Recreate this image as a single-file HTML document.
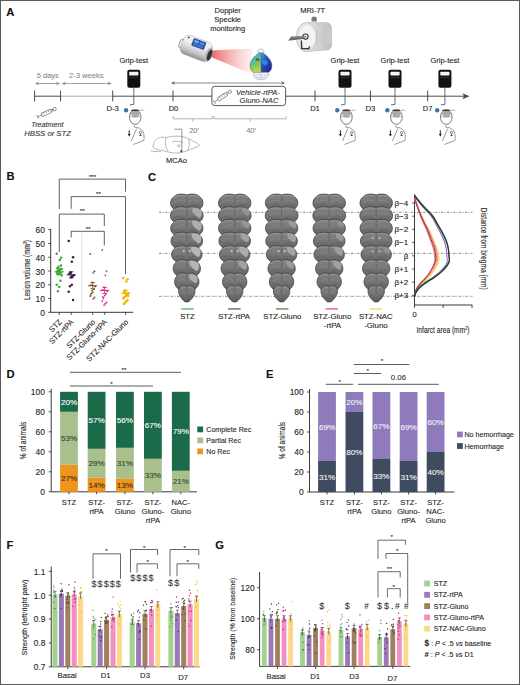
<!DOCTYPE html>
<html><head><meta charset="utf-8"><style>
html,body{margin:0;padding:0;background:#fff;}
svg{display:block;font-family:"Liberation Sans", sans-serif;}
</style></head><body>
<svg width="520" height="685" viewBox="0 0 520 685" font-family='"Liberation Sans", sans-serif'>
<rect width="520" height="685" fill="#fff"/>
<defs>
<linearGradient id="cone" x1="0" y1="0" x2="1" y2="0"><stop offset="0" stop-color="#e84a4a" stop-opacity="0.9"/><stop offset="1" stop-color="#f7b0b0" stop-opacity="0.25"/></linearGradient>
<linearGradient id="silver" x1="0" y1="0" x2="0" y2="1"><stop offset="0" stop-color="#f2f2f2"/><stop offset="0.6" stop-color="#cfcfcf"/><stop offset="1" stop-color="#9a9a9a"/></linearGradient>
<linearGradient id="mri" x1="0" y1="0" x2="1" y2="0"><stop offset="0" stop-color="#e8e8e8"/><stop offset="1" stop-color="#bdbdbd"/></linearGradient>
<radialGradient id="brainc" cx="0.35" cy="0.35" r="0.7"><stop offset="0" stop-color="#f0d020"/><stop offset="0.25" stop-color="#40c0a0"/><stop offset="0.55" stop-color="#2a78c8"/><stop offset="1" stop-color="#1c3c9c"/></radialGradient>
<linearGradient id="slice" x1="0" y1="0" x2="0" y2="1"><stop offset="0" stop-color="#828282"/><stop offset="0.5" stop-color="#747474"/><stop offset="1" stop-color="#5a5a5a"/></linearGradient>
</defs>
<text x="6.30" y="15.90" font-size="11.2" text-anchor="start" fill="#111" stroke="#111" stroke-width="0.1" font-weight="bold" font-style="normal" >A</text>
<line x1="34.60" y1="96.20" x2="60.60" y2="96.20" stroke="#4a4a4a" stroke-width="1.0" />
<line x1="60.60" y1="96.20" x2="112.70" y2="96.20" stroke="#555" stroke-width="1.0" stroke-dasharray="1,1"/>
<line x1="112.70" y1="96.20" x2="465.00" y2="96.20" stroke="#4a4a4a" stroke-width="1.0" />
<path d="M469.5,96.2 L462.5,93.2 L464,96.2 L462.5,99.2 Z" fill="#4a4a4a" stroke="none" stroke-width="0.8" />
<line x1="34.60" y1="90.60" x2="34.60" y2="101.40" stroke="#4a4a4a" stroke-width="1.0" />
<line x1="60.60" y1="90.60" x2="60.60" y2="101.40" stroke="#4a4a4a" stroke-width="1.0" />
<line x1="112.70" y1="90.60" x2="112.70" y2="101.40" stroke="#4a4a4a" stroke-width="1.0" />
<line x1="173.00" y1="90.60" x2="173.00" y2="101.40" stroke="#4a4a4a" stroke-width="1.0" />
<line x1="315.00" y1="90.60" x2="315.00" y2="101.40" stroke="#4a4a4a" stroke-width="1.0" />
<line x1="370.40" y1="90.60" x2="370.40" y2="101.40" stroke="#4a4a4a" stroke-width="1.0" />
<line x1="427.70" y1="90.60" x2="427.70" y2="101.40" stroke="#4a4a4a" stroke-width="1.0" />
<text x="112.70" y="111.00" font-size="7.6" text-anchor="middle" fill="#222" stroke="#222" stroke-width="0.1" font-weight="normal" font-style="normal" >D-3</text>
<text x="173.50" y="111.00" font-size="7.6" text-anchor="middle" fill="#222" stroke="#222" stroke-width="0.1" font-weight="normal" font-style="normal" >D0</text>
<text x="315.00" y="111.00" font-size="7.6" text-anchor="middle" fill="#222" stroke="#222" stroke-width="0.1" font-weight="normal" font-style="normal" >D1</text>
<text x="370.40" y="111.00" font-size="7.6" text-anchor="middle" fill="#222" stroke="#222" stroke-width="0.1" font-weight="normal" font-style="normal" >D3</text>
<text x="427.70" y="111.00" font-size="7.6" text-anchor="middle" fill="#222" stroke="#222" stroke-width="0.1" font-weight="normal" font-style="normal" >D7</text>
<line x1="36.00" y1="83.50" x2="59.00" y2="83.50" stroke="#8c8c8c" stroke-width="0.8" />
<path d="M35,83.5 L39.1,81.55 L37.6,83.5 L39.1,85.45 Z" fill="#8c8c8c" stroke="none" stroke-width="0.8" />
<path d="M60,83.5 L55.9,81.55 L57.4,83.5 L55.9,85.45 Z" fill="#8c8c8c" stroke="none" stroke-width="0.8" />
<line x1="62.80" y1="83.50" x2="110.60" y2="83.50" stroke="#8c8c8c" stroke-width="0.8" />
<path d="M61.8,83.5 L65.89999999999999,81.55 L64.39999999999999,83.5 L65.89999999999999,85.45 Z" fill="#8c8c8c" stroke="none" stroke-width="0.8" />
<path d="M111.6,83.5 L107.5,81.55 L109.0,83.5 L107.5,85.45 Z" fill="#8c8c8c" stroke="none" stroke-width="0.8" />
<text x="47.80" y="77.70" font-size="7.5" text-anchor="middle" fill="#8a8a8a" stroke="#8a8a8a" stroke-width="0.1" font-weight="normal" font-style="normal" >5 days</text>
<text x="86.30" y="77.70" font-size="7.6" text-anchor="middle" fill="#8a8a8a" stroke="#8a8a8a" stroke-width="0.1" font-weight="normal" font-style="normal" >2-3 weeks</text>
<line x1="172.00" y1="83.00" x2="284.00" y2="83.00" stroke="#6a6a6a" stroke-width="0.8" />
<path d="M171,83 L175.1,81.05 L173.6,83 L175.1,84.95 Z" fill="#6a6a6a" stroke="none" stroke-width="0.8" />
<path d="M285,83 L280.9,81.05 L282.4,83 L280.9,84.95 Z" fill="#6a6a6a" stroke="none" stroke-width="0.8" />
<text x="47.40" y="126.60" font-size="7.2" text-anchor="middle" fill="#333" stroke="#333" stroke-width="0.1" font-weight="normal" font-style="italic" >Treatment</text>
<text x="47.60" y="135.80" font-size="7.7" text-anchor="middle" fill="#333" stroke="#333" stroke-width="0.1" font-weight="normal" font-style="italic" >HBSS or STZ</text>
<g transform="translate(47.3,112.4) rotate(-25) scale(1.0)" fill="none" stroke="#8a8a8a" stroke-width="0.9"><line x1="-10.5" y1="-2" x2="-10.5" y2="2"/><line x1="-10.5" y1="0" x2="-6" y2="0"/><rect x="-6" y="-1.8" width="10" height="3.6" rx="0.5"/><line x1="-3.5" y1="-1.8" x2="-3.5" y2="0"/><line x1="-1" y1="-1.8" x2="-1" y2="0"/><line x1="1.5" y1="-1.8" x2="1.5" y2="0"/><path d="M4,-1.2 L6,-0.6 L6,0.6 L4,1.2"/><circle cx="8" cy="0" r="1.6"/></g>
<text x="133.80" y="63.20" font-size="7.5" text-anchor="middle" fill="#222" stroke="#222" stroke-width="0.1" font-weight="normal" font-style="normal" >Grip-test</text>
<rect x="127.30" y="69.8" width="13" height="18" rx="2" fill="#111"/>
<rect x="129.20" y="71.8" width="9.2" height="3.6" rx="0.6" fill="#f4f4f4"/>
<line x1="129.20" y1="77.60" x2="138.40" y2="77.60" stroke="#444" stroke-width="0.6" />
<path d="M133.8,87.8 L133.8,104.4 L129.8,104.8" fill="none" stroke="#4b5b8f" stroke-width="0.9" />
<circle cx="126.10" cy="110.30" r="2.20" fill="#3f74b0" />
<ellipse cx="135.20" cy="117" rx="5.8" ry="7.4" fill="#fff" stroke="#444" stroke-width="0.7"/>
<ellipse cx="135.20" cy="114.2" rx="4.4" ry="3.6" fill="#ababab"/>
<circle cx="131.20" cy="115.20" r="1.30" fill="#fff" stroke="#777" stroke-width="0.5"/>
<circle cx="139.20" cy="115.20" r="1.30" fill="#fff" stroke="#777" stroke-width="0.5"/>
<path d="M131.3,110.4 L138.8,110.4" fill="none" stroke="#4a3030" stroke-width="1.3" />
<path d="M139.3,110.6 L143.3,110 l1,0.8" fill="none" stroke="#777" stroke-width="0.6" />
<path d="M134.3,125.5 l0.5,1.5 M134.60000000000002,127.3 C137.8,127 140.8,128.5 142.8,131 C144.3,134 144.3,138 143.8,140.5 L133.3,144.5" fill="none" stroke="#555" stroke-width="0.6" />
<path d="M136.60000000000002,128.5 L131.3,141" fill="none" stroke="#555" stroke-width="0.6" />
<path d="M129.20000000000002,130.2 L129.20000000000002,134.5" fill="none" stroke="#111" stroke-width="0.9" />
<path d="M127.80000000000001,134 L129.20000000000002,136.6 L130.60000000000002,134 Z" fill="#111" stroke="none" stroke-width="0.8" />
<circle cx="140.40" cy="132.60" r="1.20" fill="#fff" stroke="#333" stroke-width="0.6"/>
<path d="M140.4,133.8 L140.4,136 M139.0,135.5 L141.8,135.5" fill="none" stroke="#333" stroke-width="0.6" />
<text x="345.00" y="63.20" font-size="7.5" text-anchor="middle" fill="#222" stroke="#222" stroke-width="0.1" font-weight="normal" font-style="normal" >Grip-test</text>
<rect x="338.50" y="69.8" width="13" height="18" rx="2" fill="#111"/>
<rect x="340.40" y="71.8" width="9.2" height="3.6" rx="0.6" fill="#f4f4f4"/>
<line x1="340.40" y1="77.60" x2="349.60" y2="77.60" stroke="#444" stroke-width="0.6" />
<path d="M345,87.8 L345,104.4 L341,104.8" fill="none" stroke="#4b5b8f" stroke-width="0.9" />
<circle cx="337.30" cy="110.30" r="2.20" fill="#3f74b0" />
<ellipse cx="346.40" cy="117" rx="5.8" ry="7.4" fill="#fff" stroke="#444" stroke-width="0.7"/>
<ellipse cx="346.40" cy="114.2" rx="4.4" ry="3.6" fill="#ababab"/>
<circle cx="342.40" cy="115.20" r="1.30" fill="#fff" stroke="#777" stroke-width="0.5"/>
<circle cx="350.40" cy="115.20" r="1.30" fill="#fff" stroke="#777" stroke-width="0.5"/>
<path d="M342.5,110.4 L350,110.4" fill="none" stroke="#4a3030" stroke-width="1.3" />
<path d="M350.5,110.6 L354.5,110 l1,0.8" fill="none" stroke="#777" stroke-width="0.6" />
<path d="M345.5,125.5 l0.5,1.5 M345.8,127.3 C349,127 352,128.5 354,131 C355.5,134 355.5,138 355,140.5 L344.5,144.5" fill="none" stroke="#555" stroke-width="0.6" />
<path d="M347.8,128.5 L342.5,141" fill="none" stroke="#555" stroke-width="0.6" />
<path d="M340.4,130.2 L340.4,134.5" fill="none" stroke="#111" stroke-width="0.9" />
<path d="M339,134 L340.4,136.6 L341.8,134 Z" fill="#111" stroke="none" stroke-width="0.8" />
<circle cx="351.60" cy="132.60" r="1.20" fill="#fff" stroke="#333" stroke-width="0.6"/>
<path d="M351.6,133.8 L351.6,136 M350.2,135.5 L353,135.5" fill="none" stroke="#333" stroke-width="0.6" />
<text x="395.00" y="63.20" font-size="7.5" text-anchor="middle" fill="#222" stroke="#222" stroke-width="0.1" font-weight="normal" font-style="normal" >Grip-test</text>
<rect x="388.50" y="69.8" width="13" height="18" rx="2" fill="#111"/>
<rect x="390.40" y="71.8" width="9.2" height="3.6" rx="0.6" fill="#f4f4f4"/>
<line x1="390.40" y1="77.60" x2="399.60" y2="77.60" stroke="#444" stroke-width="0.6" />
<path d="M395,87.8 L395,104.4 L391,104.8" fill="none" stroke="#4b5b8f" stroke-width="0.9" />
<circle cx="387.30" cy="110.30" r="2.20" fill="#3f74b0" />
<ellipse cx="396.40" cy="117" rx="5.8" ry="7.4" fill="#fff" stroke="#444" stroke-width="0.7"/>
<ellipse cx="396.40" cy="114.2" rx="4.4" ry="3.6" fill="#ababab"/>
<circle cx="392.40" cy="115.20" r="1.30" fill="#fff" stroke="#777" stroke-width="0.5"/>
<circle cx="400.40" cy="115.20" r="1.30" fill="#fff" stroke="#777" stroke-width="0.5"/>
<path d="M392.5,110.4 L400,110.4" fill="none" stroke="#4a3030" stroke-width="1.3" />
<path d="M400.5,110.6 L404.5,110 l1,0.8" fill="none" stroke="#777" stroke-width="0.6" />
<path d="M395.5,125.5 l0.5,1.5 M395.8,127.3 C399,127 402,128.5 404,131 C405.5,134 405.5,138 405,140.5 L394.5,144.5" fill="none" stroke="#555" stroke-width="0.6" />
<path d="M397.8,128.5 L392.5,141" fill="none" stroke="#555" stroke-width="0.6" />
<path d="M390.4,130.2 L390.4,134.5" fill="none" stroke="#111" stroke-width="0.9" />
<path d="M389,134 L390.4,136.6 L391.8,134 Z" fill="#111" stroke="none" stroke-width="0.8" />
<circle cx="401.60" cy="132.60" r="1.20" fill="#fff" stroke="#333" stroke-width="0.6"/>
<path d="M401.6,133.8 L401.6,136 M400.2,135.5 L403,135.5" fill="none" stroke="#333" stroke-width="0.6" />
<text x="444.90" y="63.20" font-size="7.5" text-anchor="middle" fill="#222" stroke="#222" stroke-width="0.1" font-weight="normal" font-style="normal" >Grip-test</text>
<rect x="438.40" y="69.8" width="13" height="18" rx="2" fill="#111"/>
<rect x="440.30" y="71.8" width="9.2" height="3.6" rx="0.6" fill="#f4f4f4"/>
<line x1="440.30" y1="77.60" x2="449.50" y2="77.60" stroke="#444" stroke-width="0.6" />
<path d="M444.9,87.8 L444.9,104.4 L440.9,104.8" fill="none" stroke="#4b5b8f" stroke-width="0.9" />
<circle cx="437.20" cy="110.30" r="2.20" fill="#3f74b0" />
<ellipse cx="446.30" cy="117" rx="5.8" ry="7.4" fill="#fff" stroke="#444" stroke-width="0.7"/>
<ellipse cx="446.30" cy="114.2" rx="4.4" ry="3.6" fill="#ababab"/>
<circle cx="442.30" cy="115.20" r="1.30" fill="#fff" stroke="#777" stroke-width="0.5"/>
<circle cx="450.30" cy="115.20" r="1.30" fill="#fff" stroke="#777" stroke-width="0.5"/>
<path d="M442.4,110.4 L449.9,110.4" fill="none" stroke="#4a3030" stroke-width="1.3" />
<path d="M450.4,110.6 L454.4,110 l1,0.8" fill="none" stroke="#777" stroke-width="0.6" />
<path d="M445.4,125.5 l0.5,1.5 M445.7,127.3 C448.9,127 451.9,128.5 453.9,131 C455.4,134 455.4,138 454.9,140.5 L444.4,144.5" fill="none" stroke="#555" stroke-width="0.6" />
<path d="M447.7,128.5 L442.4,141" fill="none" stroke="#555" stroke-width="0.6" />
<path d="M440.29999999999995,130.2 L440.29999999999995,134.5" fill="none" stroke="#111" stroke-width="0.9" />
<path d="M438.9,134 L440.29999999999995,136.6 L441.7,134 Z" fill="#111" stroke="none" stroke-width="0.8" />
<circle cx="451.50" cy="132.60" r="1.20" fill="#fff" stroke="#333" stroke-width="0.6"/>
<path d="M451.5,133.8 L451.5,136 M450.09999999999997,135.5 L452.9,135.5" fill="none" stroke="#333" stroke-width="0.6" />
<text x="227.70" y="12.60" font-size="7.5" text-anchor="middle" fill="#222" stroke="#222" stroke-width="0.1" font-weight="normal" font-style="normal" >Doppler</text>
<text x="227.70" y="22.00" font-size="7.5" text-anchor="middle" fill="#222" stroke="#222" stroke-width="0.1" font-weight="normal" font-style="normal" >Speckle</text>
<text x="227.70" y="31.40" font-size="7.5" text-anchor="middle" fill="#222" stroke="#222" stroke-width="0.1" font-weight="normal" font-style="normal" >monitoring</text>
<defs><linearGradient id="cone2" x1="0" y1="0" x2="1" y2="0"><stop offset="0" stop-color="#ec5b5b" stop-opacity="0.95"/><stop offset="0.5" stop-color="#f39a9a" stop-opacity="0.7"/><stop offset="1" stop-color="#fad6d6" stop-opacity="0.35"/></linearGradient></defs>
<path d="M211,50.5 L252,48.5 L252,74 L212,57.5 Z" fill="url(#cone2)" stroke="none" stroke-width="0.8" />
<defs><linearGradient id="dv" x1="0" y1="0" x2="0" y2="1"><stop offset="0" stop-color="#fafafa"/><stop offset="0.45" stop-color="#e6e6e6"/><stop offset="0.75" stop-color="#c4c4c4"/><stop offset="1" stop-color="#8e8e8e"/></linearGradient></defs>
<g transform="rotate(21 197 48)"><rect x="181" y="38.5" width="31" height="20" rx="6" fill="url(#dv)" stroke="#a8a8a8" stroke-width="0.5"/><rect x="190.5" y="39.6" width="13.5" height="8" rx="1" fill="#2a58ae"/><rect x="192" y="41" width="4.5" height="2.4" fill="#7aa8e4"/><rect x="197.8" y="41" width="4.5" height="2.4" fill="#5a8ad4"/><rect x="192" y="44.2" width="10.3" height="2" fill="#4474c4"/><ellipse cx="210.5" cy="50" rx="3.4" ry="7.6" fill="#b4b4b4"/><ellipse cx="211.3" cy="50.2" rx="2.2" ry="5.8" fill="#3a3232"/><path d="M182,45 L179,46 L179,53 L182,54" fill="none" stroke="#9a9a9a" stroke-width="1"/><circle cx="185.5" cy="41" r="0.9" fill="#333"/></g>
<defs><linearGradient id="bl" x1="0" y1="0" x2="0.3" y2="1"><stop offset="0" stop-color="#2c9ad0"/><stop offset="0.35" stop-color="#3cbcc4"/><stop offset="0.7" stop-color="#70c868"/><stop offset="1" stop-color="#c8d040"/></linearGradient><linearGradient id="br" x1="0" y1="0" x2="1" y2="1"><stop offset="0" stop-color="#40b8e0"/><stop offset="0.35" stop-color="#2a58c0"/><stop offset="1" stop-color="#1c1c90"/></linearGradient></defs>
<g><path d="M261,72.5 L253.5,72.5 C251,70.5 250,68 250.2,65 C250.6,59.5 256,54.5 261,52 Z" fill="url(#bl)"/><path d="M261,52 C266,54.5 271.4,59.5 271.8,65 C272,68 271,70.5 268.5,72.5 L261,72.5 Z" fill="url(#br)"/><path d="M262,60 C265,59 268,61 268,64 C266,66 263,65 262,63 Z" fill="#3a9ad8" opacity="0.7"/><ellipse cx="257.6" cy="59.6" rx="2.1" ry="1.3" fill="#b8400e"/><path d="M261,52.5 L261,72.5" stroke="#2a6a9a" stroke-width="0.5"/><path d="M261,52 C256,54.5 250.6,59.5 250.2,65 C250,68 251,70.5 253.5,72.5 L268.5,72.5 C271,70.5 272,68 271.8,65 C271.4,59.5 266,54.5 261,52 Z" fill="none" stroke="#4a4a6a" stroke-width="0.5"/><path d="M253.5,72.5 C252.5,76 255.5,79.8 261,79.8 C266.5,79.8 269.5,76 268.5,72.5 Z" fill="#eef0f4" stroke="#9090a8" stroke-width="0.5"/><path d="M255,75 L267,75 M256,77.5 L266,77.5 M261,72.5 L261,79.5" stroke="#a8a8c0" stroke-width="0.4"/><path d="M258.2,52.6 C257.7,50.5 258.6,49 261,49 C263.4,49 264.3,50.5 263.8,52.6 Z" fill="#f8f8f8" stroke="#8a8a8a" stroke-width="0.5"/></g>
<text x="312.70" y="13.40" font-size="7.5" text-anchor="middle" fill="#222" stroke="#222" stroke-width="0.1" font-weight="normal" font-style="normal" >MRI-7T</text>
<g><path d="M311.5,21.5 L311.5,18.5 Q311.5,16.5 314,16.5 Q316.8,16.5 316.8,18.5 L316.8,21.5 Z" fill="#7a7a7a"/><path d="M306,22.6 L326,22.6 Q331.5,23 331.5,29 L331.5,45 Q331,50 326,50 L306,51.5 Z" fill="url(#mri)" stroke="#b4b4b4" stroke-width="0.6"/><path d="M318,23 L318,50.5 M325,24 L325,49.5" stroke="#c8c8c8" stroke-width="0.6"/><rect x="326" y="28" width="5.5" height="16" fill="#cacaca"/><ellipse cx="306.6" cy="37.1" rx="10.2" ry="14.6" fill="#e8e8e8" stroke="#b8b8b8" stroke-width="0.8"/><ellipse cx="307.3" cy="37.1" rx="7.5" ry="11.5" fill="#f4f4f4"/><circle cx="305.5" cy="36.6" r="2.6" fill="#fff" stroke="#3a3a3a" stroke-width="1.2"/><circle cx="305.5" cy="36.6" r="0.9" fill="#666"/><path d="M291,36.4 L304.5,35.8 L304.5,38.8 L288.3,40.8 Z" fill="#6a6a6a"/><path d="M291.5,37.1 L303.5,36.6" stroke="#c8c8c8" stroke-width="0.5"/><path d="M301.4,40.5 L301.7,48.6 L308.8,48.8 L309.6,46.5" fill="none" stroke="#1e3a5a" stroke-width="1.4"/></g>
<rect x="211.9" y="86.3" width="73.7" height="19.3" rx="3" fill="#fff" stroke="#444" stroke-width="0.9"/>
<g transform="translate(223.2,96.2) rotate(-34) scale(1.0)" fill="none" stroke="#8a8a8a" stroke-width="0.9"><line x1="-10.5" y1="-2" x2="-10.5" y2="2"/><line x1="-10.5" y1="0" x2="-6" y2="0"/><rect x="-6" y="-1.8" width="10" height="3.6" rx="0.5"/><line x1="-3.5" y1="-1.8" x2="-3.5" y2="0"/><line x1="-1" y1="-1.8" x2="-1" y2="0"/><line x1="1.5" y1="-1.8" x2="1.5" y2="0"/><path d="M4,-1.2 L6,-0.6 L6,0.6 L4,1.2"/><circle cx="8" cy="0" r="1.6"/></g>
<text x="258.00" y="94.90" font-size="7.6" text-anchor="middle" fill="#333" stroke="#333" stroke-width="0.1" font-weight="normal" font-style="italic" >Vehicle-rtPA-</text>
<text x="259.00" y="103.30" font-size="7.6" text-anchor="middle" fill="#333" stroke="#333" stroke-width="0.1" font-weight="normal" font-style="italic" >Gluno-NAC</text>
<path d="M173.2,116.0 L173.2,118.8 L212.5,118.8 L212.5,116.0" fill="none" stroke="#a0a0a0" stroke-width="0.8" />
<line x1="192.85" y1="118.80" x2="192.85" y2="121.60" stroke="#a0a0a0" stroke-width="0.8" />
<path d="M214,116.0 L214,118.8 L286.2,118.8 L286.2,116.0" fill="none" stroke="#a0a0a0" stroke-width="0.8" />
<line x1="250.10" y1="118.80" x2="250.10" y2="121.60" stroke="#a0a0a0" stroke-width="0.8" />
<text x="194.00" y="133.20" font-size="7.5" text-anchor="middle" fill="#8a8a8a" stroke="#8a8a8a" stroke-width="0.1" font-weight="normal" font-style="normal" >20&#8242;</text>
<text x="251.00" y="133.20" font-size="7.5" text-anchor="middle" fill="#8a8a8a" stroke="#8a8a8a" stroke-width="0.1" font-weight="normal" font-style="normal" >40&#8242;</text>
<g fill="none" stroke="#8a8a8a" stroke-width="0.6"><path d="M153,147 C153,143 155,139.5 158.5,138 C161,137 164,137 166.5,137.6 C170,136.2 176,135.8 181,136.4 C186,137 190,139.5 193,141.2 C196,142.4 198.5,143.5 199.5,145.2 C198,147 194,148 190,149.6 C186,151.5 181,153 176,153 C171,153 167,151.8 163,150.6 C159,150 155.5,149.5 153,147 Z"/><path d="M166.5,137.6 C164.5,141 165,146.5 168,151.3"/><path d="M188.5,139 C190,143 189.5,147 187.5,150.6"/><path d="M150.5,150.5 C153,151.5 157,151.8 161,151.6"/><path d="M172,142 C175,140.5 180,141 183,143"/><ellipse cx="178.8" cy="145.8" rx="1.6" ry="0.9"/></g>
<path d="M174.4,129.2 L181.9,129.2 L181.9,152.3" fill="none" stroke="#666" stroke-width="0.7" />
<circle cx="181.20" cy="151.20" r="1.10" fill="#555" />
<text x="176.50" y="163.40" font-size="7.5" text-anchor="middle" fill="#222" stroke="#222" stroke-width="0.1" font-weight="normal" font-style="normal" >MCAo</text>
<text x="6.40" y="180.40" font-size="11.2" text-anchor="start" fill="#111" stroke="#111" stroke-width="0.1" font-weight="bold" font-style="normal" >B</text>
<line x1="50.70" y1="229.20" x2="50.70" y2="312.30" stroke="#222" stroke-width="0.9" />
<line x1="50.70" y1="312.30" x2="133.20" y2="312.30" stroke="#222" stroke-width="0.9" />
<line x1="48.20" y1="312.30" x2="50.70" y2="312.30" stroke="#222" stroke-width="0.8" />
<text x="44.80" y="315.90" font-size="8.4" text-anchor="end" fill="#222" stroke="#222" stroke-width="0.1" font-weight="normal" font-style="normal" >0</text>
<line x1="48.20" y1="298.53" x2="50.70" y2="298.53" stroke="#222" stroke-width="0.8" />
<text x="44.80" y="302.13" font-size="8.4" text-anchor="end" fill="#222" stroke="#222" stroke-width="0.1" font-weight="normal" font-style="normal" >10</text>
<line x1="48.20" y1="284.77" x2="50.70" y2="284.77" stroke="#222" stroke-width="0.8" />
<text x="44.80" y="288.37" font-size="8.4" text-anchor="end" fill="#222" stroke="#222" stroke-width="0.1" font-weight="normal" font-style="normal" >20</text>
<line x1="48.20" y1="271.00" x2="50.70" y2="271.00" stroke="#222" stroke-width="0.8" />
<text x="44.80" y="274.60" font-size="8.4" text-anchor="end" fill="#222" stroke="#222" stroke-width="0.1" font-weight="normal" font-style="normal" >30</text>
<line x1="48.20" y1="257.23" x2="50.70" y2="257.23" stroke="#222" stroke-width="0.8" />
<text x="44.80" y="260.83" font-size="8.4" text-anchor="end" fill="#222" stroke="#222" stroke-width="0.1" font-weight="normal" font-style="normal" >40</text>
<line x1="48.20" y1="243.47" x2="50.70" y2="243.47" stroke="#222" stroke-width="0.8" />
<text x="44.80" y="247.06" font-size="8.4" text-anchor="end" fill="#222" stroke="#222" stroke-width="0.1" font-weight="normal" font-style="normal" >50</text>
<line x1="48.20" y1="229.70" x2="50.70" y2="229.70" stroke="#222" stroke-width="0.8" />
<text x="44.80" y="233.30" font-size="8.4" text-anchor="end" fill="#222" stroke="#222" stroke-width="0.1" font-weight="normal" font-style="normal" >60</text>
<line x1="81.80" y1="233.00" x2="81.80" y2="312.30" stroke="#dcdcdc" stroke-width="0.9" />
<line x1="59.20" y1="312.30" x2="59.20" y2="314.80" stroke="#222" stroke-width="0.8" />
<line x1="71.20" y1="312.30" x2="71.20" y2="314.80" stroke="#222" stroke-width="0.8" />
<line x1="92.70" y1="312.30" x2="92.70" y2="314.80" stroke="#222" stroke-width="0.8" />
<line x1="104.70" y1="312.30" x2="104.70" y2="314.80" stroke="#222" stroke-width="0.8" />
<line x1="125.70" y1="312.30" x2="125.70" y2="314.80" stroke="#222" stroke-width="0.8" />
<circle cx="56.72" cy="253.65" r="1.25" fill="#3aa935" />
<circle cx="61.06" cy="257.65" r="1.25" fill="#3aa935" />
<circle cx="59.82" cy="260.12" r="1.25" fill="#3aa935" />
<circle cx="58.58" cy="266.87" r="1.25" fill="#3aa935" />
<circle cx="57.34" cy="268.25" r="1.25" fill="#3aa935" />
<circle cx="61.68" cy="268.93" r="1.25" fill="#3aa935" />
<circle cx="60.44" cy="269.62" r="1.25" fill="#3aa935" />
<circle cx="59.20" cy="270.31" r="1.25" fill="#3aa935" />
<circle cx="57.96" cy="271.00" r="1.25" fill="#3aa935" />
<circle cx="56.72" cy="271.69" r="1.25" fill="#3aa935" />
<circle cx="61.06" cy="272.38" r="1.25" fill="#3aa935" />
<circle cx="59.82" cy="273.06" r="1.25" fill="#3aa935" />
<circle cx="58.58" cy="273.75" r="1.25" fill="#3aa935" />
<circle cx="57.34" cy="274.03" r="1.25" fill="#3aa935" />
<circle cx="61.68" cy="275.13" r="1.25" fill="#3aa935" />
<circle cx="60.44" cy="280.64" r="1.25" fill="#3aa935" />
<circle cx="59.20" cy="287.11" r="1.25" fill="#3aa935" />
<circle cx="57.96" cy="291.24" r="1.25" fill="#3aa935" />
<circle cx="56.72" cy="284.77" r="1.25" fill="#3aa935" />
<circle cx="61.06" cy="265.49" r="1.25" fill="#3aa935" />
<line x1="54.70" y1="271.78" x2="63.70" y2="271.78" stroke="#3aa935" stroke-width="1.1" />
<line x1="59.20" y1="268.78" x2="59.20" y2="274.78" stroke="#3aa935" stroke-width="0.9" />
<line x1="57.00" y1="268.78" x2="61.40" y2="268.78" stroke="#3aa935" stroke-width="0.9" />
<line x1="57.00" y1="274.78" x2="61.40" y2="274.78" stroke="#3aa935" stroke-width="0.9" />
<circle cx="68.72" cy="240.99" r="1.25" fill="#3a1850" />
<circle cx="73.06" cy="257.37" r="1.25" fill="#3a1850" />
<circle cx="71.82" cy="261.78" r="1.25" fill="#3a1850" />
<circle cx="70.58" cy="272.38" r="1.25" fill="#3a1850" />
<circle cx="69.34" cy="273.75" r="1.25" fill="#3a1850" />
<circle cx="73.68" cy="275.13" r="1.25" fill="#3a1850" />
<circle cx="72.44" cy="276.51" r="1.25" fill="#3a1850" />
<circle cx="71.20" cy="277.33" r="1.25" fill="#3a1850" />
<circle cx="69.96" cy="286.28" r="1.25" fill="#3a1850" />
<circle cx="68.72" cy="291.65" r="1.25" fill="#3a1850" />
<circle cx="73.06" cy="299.91" r="1.25" fill="#3a1850" />
<circle cx="71.82" cy="284.77" r="1.25" fill="#3a1850" />
<line x1="66.70" y1="274.82" x2="75.70" y2="274.82" stroke="#3a1850" stroke-width="1.1" />
<line x1="71.20" y1="271.82" x2="71.20" y2="277.82" stroke="#3a1850" stroke-width="0.9" />
<line x1="69.00" y1="271.82" x2="73.40" y2="271.82" stroke="#3a1850" stroke-width="0.9" />
<line x1="69.00" y1="277.82" x2="73.40" y2="277.82" stroke="#3a1850" stroke-width="0.9" />
<path d="M89.02,254.65258 L91.42,254.65258 L90.22,252.55258 Z" fill="#7a5022" stroke="none" stroke-width="0.8" />
<path d="M93.36,271.999 L95.76,271.999 L94.56,269.899 Z" fill="#7a5022" stroke="none" stroke-width="0.8" />
<path d="M92.12,273.3757 L94.52000000000001,273.3757 L93.32000000000001,271.2757 Z" fill="#7a5022" stroke="none" stroke-width="0.8" />
<path d="M90.88,283.0126 L93.28,283.0126 L92.08,280.9126 Z" fill="#7a5022" stroke="none" stroke-width="0.8" />
<path d="M89.64,285.766 L92.04,285.766 L90.84,283.666 Z" fill="#7a5022" stroke="none" stroke-width="0.8" />
<path d="M93.98,287.1427 L96.38000000000001,287.1427 L95.18,285.04269999999997 Z" fill="#7a5022" stroke="none" stroke-width="0.8" />
<path d="M92.74,289.8961 L95.14,289.8961 L93.94,287.79609999999997 Z" fill="#7a5022" stroke="none" stroke-width="0.8" />
<path d="M91.5,292.6495 L93.9,292.6495 L92.7,290.54949999999997 Z" fill="#7a5022" stroke="none" stroke-width="0.8" />
<path d="M90.26,294.0262 L92.66000000000001,294.0262 L91.46000000000001,291.9262 Z" fill="#7a5022" stroke="none" stroke-width="0.8" />
<path d="M89.02,296.7796 L91.42,296.7796 L90.22,294.6796 Z" fill="#7a5022" stroke="none" stroke-width="0.8" />
<path d="M93.36,298.1563 L95.76,298.1563 L94.56,296.05629999999996 Z" fill="#7a5022" stroke="none" stroke-width="0.8" />
<path d="M92.12,299.533 L94.52000000000001,299.533 L93.32000000000001,297.433 Z" fill="#7a5022" stroke="none" stroke-width="0.8" />
<path d="M90.88,291.2728 L93.28,291.2728 L92.08,289.1728 Z" fill="#7a5022" stroke="none" stroke-width="0.8" />
<path d="M89.64,295.4029 L92.04,295.4029 L90.84,293.30289999999997 Z" fill="#7a5022" stroke="none" stroke-width="0.8" />
<line x1="88.20" y1="285.69" x2="97.20" y2="285.69" stroke="#7a5022" stroke-width="1.1" />
<line x1="92.70" y1="282.69" x2="92.70" y2="288.69" stroke="#7a5022" stroke-width="0.9" />
<line x1="90.50" y1="282.69" x2="94.90" y2="282.69" stroke="#7a5022" stroke-width="0.9" />
<line x1="90.50" y1="288.69" x2="94.90" y2="288.69" stroke="#7a5022" stroke-width="0.9" />
<path d="M101.02,249.3485 L103.42,249.3485 L102.22,251.4485 Z" fill="#e2208a" stroke="none" stroke-width="0.8" />
<path d="M105.36,270.54968 L107.76,270.54968 L106.56,272.64968000000005 Z" fill="#e2208a" stroke="none" stroke-width="0.8" />
<path d="M104.12,274.67978 L106.52000000000001,274.67978 L105.32000000000001,276.77978 Z" fill="#e2208a" stroke="none" stroke-width="0.8" />
<path d="M102.88,286.5194 L105.28,286.5194 L104.08,288.61940000000004 Z" fill="#e2208a" stroke="none" stroke-width="0.8" />
<path d="M101.64,289.2728 L104.04,289.2728 L102.84,291.37280000000004 Z" fill="#e2208a" stroke="none" stroke-width="0.8" />
<path d="M105.98,290.6495 L108.38000000000001,290.6495 L107.18,292.7495 Z" fill="#e2208a" stroke="none" stroke-width="0.8" />
<path d="M104.74,293.4029 L107.14,293.4029 L105.94,295.5029 Z" fill="#e2208a" stroke="none" stroke-width="0.8" />
<path d="M103.5,294.7796 L105.9,294.7796 L104.7,296.87960000000004 Z" fill="#e2208a" stroke="none" stroke-width="0.8" />
<path d="M102.26,297.533 L104.66000000000001,297.533 L103.46000000000001,299.63300000000004 Z" fill="#e2208a" stroke="none" stroke-width="0.8" />
<path d="M101.02,300.2864 L103.42,300.2864 L102.22,302.38640000000004 Z" fill="#e2208a" stroke="none" stroke-width="0.8" />
<path d="M105.36,301.6631 L107.76,301.6631 L106.56,303.7631 Z" fill="#e2208a" stroke="none" stroke-width="0.8" />
<path d="M104.12,303.0398 L106.52000000000001,303.0398 L105.32000000000001,305.13980000000004 Z" fill="#e2208a" stroke="none" stroke-width="0.8" />
<path d="M102.88,304.4165 L105.28,304.4165 L104.08,306.5165 Z" fill="#e2208a" stroke="none" stroke-width="0.8" />
<path d="M101.64,296.1563 L104.04,296.1563 L102.84,298.2563 Z" fill="#e2208a" stroke="none" stroke-width="0.8" />
<line x1="100.20" y1="290.45" x2="109.20" y2="290.45" stroke="#e2208a" stroke-width="1.1" />
<line x1="104.70" y1="287.45" x2="104.70" y2="293.45" stroke="#e2208a" stroke-width="0.9" />
<line x1="102.50" y1="287.45" x2="106.90" y2="287.45" stroke="#e2208a" stroke-width="0.9" />
<line x1="102.50" y1="293.45" x2="106.90" y2="293.45" stroke="#e2208a" stroke-width="0.9" />
<circle cx="123.22" cy="277.88" r="1.25" fill="#f2b500" />
<circle cx="127.56" cy="279.26" r="1.25" fill="#f2b500" />
<circle cx="126.32" cy="281.46" r="1.25" fill="#f2b500" />
<circle cx="125.08" cy="290.27" r="1.25" fill="#f2b500" />
<circle cx="123.84" cy="291.65" r="1.25" fill="#f2b500" />
<circle cx="128.18" cy="293.03" r="1.25" fill="#f2b500" />
<circle cx="126.94" cy="294.40" r="1.25" fill="#f2b500" />
<circle cx="125.70" cy="295.78" r="1.25" fill="#f2b500" />
<circle cx="124.46" cy="297.16" r="1.25" fill="#f2b500" />
<circle cx="123.22" cy="298.53" r="1.25" fill="#f2b500" />
<circle cx="127.56" cy="299.91" r="1.25" fill="#f2b500" />
<circle cx="126.32" cy="301.29" r="1.25" fill="#f2b500" />
<circle cx="125.08" cy="302.66" r="1.25" fill="#f2b500" />
<circle cx="123.84" cy="304.04" r="1.25" fill="#f2b500" />
<circle cx="128.18" cy="295.78" r="1.25" fill="#f2b500" />
<circle cx="126.94" cy="294.40" r="1.25" fill="#f2b500" />
<circle cx="125.70" cy="293.03" r="1.25" fill="#f2b500" />
<line x1="121.20" y1="293.56" x2="130.20" y2="293.56" stroke="#f2b500" stroke-width="1.1" />
<line x1="125.70" y1="290.56" x2="125.70" y2="296.56" stroke="#f2b500" stroke-width="0.9" />
<line x1="123.50" y1="290.56" x2="127.90" y2="290.56" stroke="#f2b500" stroke-width="0.9" />
<line x1="123.50" y1="296.56" x2="127.90" y2="296.56" stroke="#f2b500" stroke-width="0.9" />
<text transform="translate(29.6,270) rotate(-90)" font-size="8.6" text-anchor="middle" fill="#222" stroke="#222" stroke-width="0.1" textLength="60" lengthAdjust="spacingAndGlyphs">Lesion volume (mm<tspan font-size="5" dy="-3">3</tspan><tspan dy="3">)</tspan></text>
<text transform="translate(62.2,322.5) rotate(-45)" font-size="7.6" text-anchor="end" fill="#222" stroke="#222" stroke-width="0.1">STZ</text>
<text transform="translate(74.2,322.5) rotate(-45)" font-size="7.6" text-anchor="end" fill="#222" stroke="#222" stroke-width="0.1">STZ-rtPA</text>
<text transform="translate(95.7,322.5) rotate(-45)" font-size="7.6" text-anchor="end" fill="#222" stroke="#222" stroke-width="0.1">STZ-Gluno</text>
<text transform="translate(107.7,322.5) rotate(-45)" font-size="7.6" text-anchor="end" fill="#222" stroke="#222" stroke-width="0.1">STZ-Gluno-rtPA</text>
<text transform="translate(128.7,322.5) rotate(-45)" font-size="7.6" text-anchor="end" fill="#222" stroke="#222" stroke-width="0.1">STZ-NAC-Gluno</text>
<path d="M59.3,208.9 L59.3,179.1 L125.5,179.1 L125.5,191.7" fill="none" stroke="#383838" stroke-width="0.8" />
<text x="92.50" y="178.50" font-size="6.2" text-anchor="middle" fill="#333" stroke="#333" stroke-width="0.1" font-weight="normal" font-style="normal" >***</text>
<path d="M71.2,208.9 L71.2,196.6 L125.5,196.6 L125.5,274" fill="none" stroke="#383838" stroke-width="0.8" />
<text x="98.50" y="195.80" font-size="6.2" text-anchor="middle" fill="#333" stroke="#333" stroke-width="0.1" font-weight="normal" font-style="normal" >**</text>
<path d="M59.3,252 L59.3,214.1 L104.3,214.1 L104.3,226" fill="none" stroke="#383838" stroke-width="0.8" />
<text x="82.20" y="213.30" font-size="6.2" text-anchor="middle" fill="#333" stroke="#333" stroke-width="0.1" font-weight="normal" font-style="normal" >**</text>
<path d="M71.2,237.5 L71.2,231.3 L104.3,231.3 L104.3,245.5" fill="none" stroke="#383838" stroke-width="0.8" />
<text x="88.10" y="230.80" font-size="6.2" text-anchor="middle" fill="#333" stroke="#333" stroke-width="0.1" font-weight="normal" font-style="normal" >**</text>
<text x="148.00" y="180.50" font-size="11.2" text-anchor="start" fill="#111" stroke="#111" stroke-width="0.1" font-weight="bold" font-style="normal" >C</text>
<line x1="159.00" y1="212.30" x2="472.50" y2="212.30" stroke="#7a7a7a" stroke-width="0.9" stroke-dasharray="2.4,1.4,0.8,1.4"/>
<line x1="159.00" y1="253.40" x2="472.50" y2="253.40" stroke="#7a7a7a" stroke-width="0.9" stroke-dasharray="2.4,1.4,0.8,1.4"/>
<line x1="159.00" y1="296.30" x2="472.50" y2="296.30" stroke="#7a7a7a" stroke-width="0.9" stroke-dasharray="2.4,1.4,0.8,1.4"/>
<path d="M186.8,195.0 C185.3,193.89999999999998 176.99,193.29999999999998 174.70100000000002,196.1 C171.65,197.89999999999998 170.15,201.2 170.65,204.2 C171.25000000000003,208.7 177.644,212.7 186.8,212.7 C195.95600000000002,212.7 202.35,208.7 202.95000000000002,204.2 C203.45000000000002,201.2 201.95000000000002,197.89999999999998 198.899,196.1 C196.61,193.29999999999998 188.3,193.89999999999998 186.8,195.0 Z" fill="url(#slice)" stroke="#3e3e3e" stroke-width="0.75" />
<path d="M172.65,198.29999999999998 C175.45000000000002,194.89999999999998 182.8,194.89999999999998 186.0,196.29999999999998 M187.60000000000002,196.29999999999998 C190.8,194.89999999999998 198.15,194.89999999999998 200.95000000000002,198.29999999999998" fill="none" stroke="#969696" stroke-width="0.9" />
<path d="M174.45000000000002,202.7 C178.45000000000002,199.7 181.8,199.7 185.8,201.7 M187.8,201.7 C191.8,199.7 195.15,199.7 199.15,202.7" fill="none" stroke="#8a8a8a" stroke-width="0.7" />
<path d="M173.45000000000002,205.2 C177.45000000000002,203.7 180.8,204.7 184.8,205.7 M188.8,205.7 C192.8,204.7 196.15,203.7 200.15,205.2" fill="none" stroke="#626262" stroke-width="0.6" />
<line x1="186.80" y1="195.70" x2="186.80" y2="202.70" stroke="#555" stroke-width="0.5" />
<path d="M186.8,207.60000000000002 C185.3,206.5 176.9,205.9 174.59,208.70000000000002 C171.5,210.5 170.0,213.8 170.5,216.8 C171.10000000000002,221.3 177.56,225.3 186.8,225.3 C196.04000000000002,225.3 202.5,221.3 203.10000000000002,216.8 C203.60000000000002,213.8 202.10000000000002,210.5 199.01000000000002,208.70000000000002 C196.70000000000002,205.9 188.3,206.5 186.8,207.60000000000002 Z" fill="url(#slice)" stroke="#3e3e3e" stroke-width="0.75" />
<path d="M172.5,210.9 C175.3,207.5 182.8,207.5 186.0,208.9 M187.60000000000002,208.9 C190.8,207.5 198.3,207.5 201.10000000000002,210.9" fill="none" stroke="#969696" stroke-width="0.9" />
<path d="M174.3,215.3 C178.3,212.3 181.8,212.3 185.8,214.3 M187.8,214.3 C191.8,212.3 195.3,212.3 199.3,215.3" fill="none" stroke="#8a8a8a" stroke-width="0.7" />
<path d="M173.3,217.8 C177.3,216.3 180.8,217.3 184.8,218.3 M188.8,218.3 C192.8,217.3 196.3,216.3 200.3,217.8" fill="none" stroke="#626262" stroke-width="0.6" />
<line x1="186.80" y1="208.30" x2="186.80" y2="215.30" stroke="#555" stroke-width="0.5" />
<path d="M192.3,208.5 C196.3,207.5 199.3,208.3 201.70000000000002,211.3 C202.10000000000002,214.3 201.3,217.3 199.3,218.3 C195.3,215.3 191.3,212.3 192.3,208.5 Z" fill="#b0b0b0" opacity="0.9"/>
<path d="M186.8,220.3 C185.3,219.2 177.02,218.6 174.738,221.4 C171.7,223.2 170.2,226.5 170.7,229.5 C171.3,234.0 177.672,238.0 186.8,238.0 C195.92800000000003,238.0 202.3,234.0 202.90000000000003,229.5 C203.40000000000003,226.5 201.90000000000003,223.2 198.86200000000002,221.4 C196.58,218.6 188.3,219.2 186.8,220.3 Z" fill="url(#slice)" stroke="#3e3e3e" stroke-width="0.75" />
<path d="M172.7,223.6 C175.5,220.2 182.8,220.2 186.0,221.6 M187.60000000000002,221.6 C190.8,220.2 198.10000000000002,220.2 200.90000000000003,223.6" fill="none" stroke="#969696" stroke-width="0.9" />
<path d="M174.5,228.0 C178.5,225.0 181.8,225.0 185.8,227.0 M187.8,227.0 C191.8,225.0 195.10000000000002,225.0 199.10000000000002,228.0" fill="none" stroke="#8a8a8a" stroke-width="0.7" />
<path d="M173.5,230.5 C177.5,229.0 180.8,230.0 184.8,231.0 M188.8,231.0 C192.8,230.0 196.10000000000002,229.0 200.10000000000002,230.5" fill="none" stroke="#626262" stroke-width="0.6" />
<line x1="186.80" y1="221.00" x2="186.80" y2="228.00" stroke="#555" stroke-width="0.5" />
<path d="M192.1,221.2 C196.10000000000002,220.2 199.10000000000002,221.0 201.50000000000003,224.0 C201.90000000000003,227.0 201.10000000000002,230.0 199.10000000000002,231.0 C195.10000000000002,228.0 191.10000000000002,225.0 192.1,221.2 Z" fill="#b4b4b4" opacity="0.9"/>
<path d="M186.8,233.10000000000002 C185.3,232.0 177.26000000000002,231.4 175.034,234.20000000000002 C172.1,236.0 170.6,239.3 171.1,242.3 C171.70000000000002,246.8 177.89600000000002,250.8 186.8,250.8 C195.704,250.8 201.9,246.8 202.50000000000003,242.3 C203.00000000000003,239.3 201.50000000000003,236.0 198.56600000000003,234.20000000000002 C196.34,231.4 188.3,232.0 186.8,233.10000000000002 Z" fill="url(#slice)" stroke="#3e3e3e" stroke-width="0.75" />
<path d="M173.1,236.4 C175.9,233.0 182.8,233.0 186.0,234.4 M187.60000000000002,234.4 C190.8,233.0 197.70000000000002,233.0 200.50000000000003,236.4" fill="none" stroke="#969696" stroke-width="0.9" />
<path d="M174.9,240.8 C178.9,237.8 181.8,237.8 185.8,239.8 M187.8,239.8 C191.8,237.8 194.70000000000002,237.8 198.70000000000002,240.8" fill="none" stroke="#8a8a8a" stroke-width="0.7" />
<path d="M173.9,243.3 C177.9,241.8 180.8,242.8 184.8,243.8 M188.8,243.8 C192.8,242.8 195.70000000000002,241.8 199.70000000000002,243.3" fill="none" stroke="#626262" stroke-width="0.6" />
<line x1="186.80" y1="233.80" x2="186.80" y2="240.80" stroke="#555" stroke-width="0.5" />
<path d="M191.7,234.0 C195.70000000000002,233.0 198.70000000000002,233.8 201.10000000000002,236.8 C201.50000000000003,239.8 200.70000000000002,242.8 198.70000000000002,243.8 C194.70000000000002,240.8 190.70000000000002,237.8 191.7,234.0 Z" fill="#b7b7b7" opacity="0.9"/>
<path d="M186.8,246.60000000000002 C185.3,245.5 177.62,244.9 175.478,247.70000000000002 C172.7,249.5 171.2,252.8 171.7,255.8 C172.3,260.3 178.232,264.3 186.8,264.3 C195.36800000000002,264.3 201.3,260.3 201.90000000000003,255.8 C202.40000000000003,252.8 200.90000000000003,249.5 198.122,247.70000000000002 C195.98000000000002,244.9 188.3,245.5 186.8,246.60000000000002 Z" fill="url(#slice)" stroke="#3e3e3e" stroke-width="0.75" />
<path d="M173.7,249.9 C176.5,246.5 182.8,246.5 186.0,247.9 M187.60000000000002,247.9 C190.8,246.5 197.10000000000002,246.5 199.90000000000003,249.9" fill="none" stroke="#969696" stroke-width="0.9" />
<path d="M175.5,254.3 C179.5,251.3 181.8,251.3 185.8,253.3 M187.8,253.3 C191.8,251.3 194.10000000000002,251.3 198.10000000000002,254.3" fill="none" stroke="#8a8a8a" stroke-width="0.7" />
<path d="M174.5,256.8 C178.5,255.3 180.8,256.3 184.8,257.3 M188.8,257.3 C192.8,256.3 195.10000000000002,255.3 199.10000000000002,256.8" fill="none" stroke="#626262" stroke-width="0.6" />
<line x1="186.80" y1="247.30" x2="186.80" y2="254.30" stroke="#555" stroke-width="0.5" />
<path d="M191.1,247.5 C195.10000000000002,246.5 198.10000000000002,247.3 200.50000000000003,250.3 C200.90000000000003,253.3 200.10000000000002,256.3 198.10000000000002,257.3 C194.10000000000002,254.3 190.10000000000002,251.3 191.1,247.5 Z" fill="#bfbfbf" opacity="0.9"/>
<circle cx="183.80" cy="251.10" r="1.10" fill="#c8c8c8" />
<circle cx="189.80" cy="251.10" r="1.10" fill="#c8c8c8" />
<path d="M186.8,260.6 C185.3,259.5 178.52,258.90000000000003 176.588,261.7 C174.2,263.5 172.7,266.8 173.2,269.8 C173.8,274.3 179.072,278.3 186.8,278.3 C194.52800000000002,278.3 199.8,274.3 200.40000000000003,269.8 C200.90000000000003,266.8 199.40000000000003,263.5 197.01200000000003,261.7 C195.08,258.90000000000003 188.3,259.5 186.8,260.6 Z" fill="url(#slice)" stroke="#3e3e3e" stroke-width="0.75" />
<path d="M175.2,263.90000000000003 C178.0,260.5 182.8,260.5 186.0,261.90000000000003 M187.60000000000002,261.90000000000003 C190.8,260.5 195.60000000000002,260.5 198.40000000000003,263.90000000000003" fill="none" stroke="#969696" stroke-width="0.9" />
<path d="M177.0,268.3 C181.0,265.3 181.8,265.3 185.8,267.3 M187.8,267.3 C191.8,265.3 192.60000000000002,265.3 196.60000000000002,268.3" fill="none" stroke="#8a8a8a" stroke-width="0.7" />
<path d="M176.0,270.8 C180.0,269.3 180.8,270.3 184.8,271.3 M188.8,271.3 C192.8,270.3 193.60000000000002,269.3 197.60000000000002,270.8" fill="none" stroke="#626262" stroke-width="0.6" />
<line x1="186.80" y1="261.30" x2="186.80" y2="268.30" stroke="#555" stroke-width="0.5" />
<path d="M189.6,261.5 C193.60000000000002,260.5 196.60000000000002,261.3 199.00000000000003,264.3 C199.40000000000003,267.3 198.60000000000002,270.3 196.60000000000002,271.3 C192.60000000000002,268.3 188.60000000000002,265.3 189.6,261.5 Z" fill="#bbbbbb" opacity="0.9"/>
<path d="M186.8,273.90000000000003 C185.3,272.8 179.42000000000002,272.20000000000005 177.698,275.0 C175.7,276.8 174.2,280.1 174.7,283.1 C175.3,287.6 179.912,291.6 186.8,291.6 C193.68800000000002,291.6 198.3,287.6 198.90000000000003,283.1 C199.40000000000003,280.1 197.90000000000003,276.8 195.90200000000002,275.0 C194.18,272.20000000000005 188.3,272.8 186.8,273.90000000000003 Z" fill="url(#slice)" stroke="#3e3e3e" stroke-width="0.75" />
<path d="M176.7,277.20000000000005 C179.5,273.8 182.8,273.8 186.0,275.20000000000005 M187.60000000000002,275.20000000000005 C190.8,273.8 194.10000000000002,273.8 196.90000000000003,277.20000000000005" fill="none" stroke="#969696" stroke-width="0.9" />
<path d="M178.5,281.6 C182.5,278.6 181.8,278.6 185.8,280.6 M187.8,280.6 C191.8,278.6 191.10000000000002,278.6 195.10000000000002,281.6" fill="none" stroke="#8a8a8a" stroke-width="0.7" />
<path d="M177.5,284.1 C181.5,282.6 180.8,283.6 184.8,284.6 M188.8,284.6 C192.8,283.6 192.10000000000002,282.6 196.10000000000002,284.1" fill="none" stroke="#626262" stroke-width="0.6" />
<line x1="186.80" y1="274.60" x2="186.80" y2="281.60" stroke="#555" stroke-width="0.5" />
<path d="M189.0,274.8 C193.00000000000003,273.8 195.10000000000002,274.6 197.50000000000003,277.6 C197.90000000000003,280.6 197.10000000000002,282.5 195.10000000000002,283.40000000000003 C192.00000000000003,280.70000000000005 188.00000000000003,278.6 189.0,274.8 Z" fill="#b4b4b4" opacity="0.9"/>
<path d="M186.8,286.6 C184.8,285.1 180.3,284.8 178.9,288.8 C177.70000000000002,293.8 180.3,297.8 184.8,301.7 C185.8,302.0 187.8,302.0 188.8,301.7 C193.3,297.8 195.9,293.8 194.70000000000002,288.8 C193.3,284.8 188.8,285.1 186.8,286.6 Z" fill="url(#slice)" stroke="#3e3e3e" stroke-width="0.75" />
<path d="M180.5,289.40000000000003 C183.3,286.0 182.8,286.0 186.0,287.40000000000003 M187.60000000000002,287.40000000000003 C190.8,286.0 190.3,286.0 193.10000000000002,289.40000000000003" fill="none" stroke="#969696" stroke-width="0.9" />
<path d="M182.3,293.8 C186.3,290.8 181.8,290.8 185.8,292.8 M187.8,292.8 C191.8,290.8 187.3,290.8 191.3,293.8" fill="none" stroke="#8a8a8a" stroke-width="0.7" />
<path d="M181.3,296.3 C185.3,294.8 180.8,295.8 184.8,296.8 M188.8,296.8 C192.8,295.8 188.3,294.8 192.3,296.3" fill="none" stroke="#626262" stroke-width="0.6" />
<line x1="186.80" y1="286.80" x2="186.80" y2="293.80" stroke="#555" stroke-width="0.5" />
<path d="M234.7,195.0 C233.2,193.89999999999998 224.89,193.29999999999998 222.601,196.1 C219.54999999999998,197.89999999999998 218.04999999999998,201.2 218.54999999999998,204.2 C219.15,208.7 225.54399999999998,212.7 234.7,212.7 C243.856,212.7 250.24999999999997,208.7 250.85,204.2 C251.35,201.2 249.85,197.89999999999998 246.79899999999998,196.1 C244.51,193.29999999999998 236.2,193.89999999999998 234.7,195.0 Z" fill="url(#slice)" stroke="#3e3e3e" stroke-width="0.75" />
<path d="M220.54999999999998,198.29999999999998 C223.35,194.89999999999998 230.7,194.89999999999998 233.89999999999998,196.29999999999998 M235.5,196.29999999999998 C238.7,194.89999999999998 246.04999999999998,194.89999999999998 248.85,198.29999999999998" fill="none" stroke="#969696" stroke-width="0.9" />
<path d="M222.35,202.7 C226.35,199.7 229.7,199.7 233.7,201.7 M235.7,201.7 C239.7,199.7 243.04999999999998,199.7 247.04999999999998,202.7" fill="none" stroke="#8a8a8a" stroke-width="0.7" />
<path d="M221.35,205.2 C225.35,203.7 228.7,204.7 232.7,205.7 M236.7,205.7 C240.7,204.7 244.04999999999998,203.7 248.04999999999998,205.2" fill="none" stroke="#626262" stroke-width="0.6" />
<line x1="234.70" y1="195.70" x2="234.70" y2="202.70" stroke="#555" stroke-width="0.5" />
<path d="M234.7,207.60000000000002 C233.2,206.5 224.79999999999998,205.9 222.48999999999998,208.70000000000002 C219.39999999999998,210.5 217.89999999999998,213.8 218.39999999999998,216.8 C219.0,221.3 225.45999999999998,225.3 234.7,225.3 C243.94,225.3 250.39999999999998,221.3 251.0,216.8 C251.5,213.8 250.0,210.5 246.91,208.70000000000002 C244.6,205.9 236.2,206.5 234.7,207.60000000000002 Z" fill="url(#slice)" stroke="#3e3e3e" stroke-width="0.75" />
<path d="M220.39999999999998,210.9 C223.2,207.5 230.7,207.5 233.89999999999998,208.9 M235.5,208.9 C238.7,207.5 246.2,207.5 249.0,210.9" fill="none" stroke="#969696" stroke-width="0.9" />
<path d="M222.2,215.3 C226.2,212.3 229.7,212.3 233.7,214.3 M235.7,214.3 C239.7,212.3 243.2,212.3 247.2,215.3" fill="none" stroke="#8a8a8a" stroke-width="0.7" />
<path d="M221.2,217.8 C225.2,216.3 228.7,217.3 232.7,218.3 M236.7,218.3 C240.7,217.3 244.2,216.3 248.2,217.8" fill="none" stroke="#626262" stroke-width="0.6" />
<line x1="234.70" y1="208.30" x2="234.70" y2="215.30" stroke="#555" stroke-width="0.5" />
<path d="M242.0,208.5 C246.0,207.5 247.2,208.3 249.6,211.3 C250.0,214.3 249.2,215.10000000000002 247.2,215.9 C245.0,213.5 241.0,212.3 242.0,208.5 Z" fill="#969696" opacity="0.9"/>
<path d="M234.7,220.3 C233.2,219.2 224.92,218.6 222.63799999999998,221.4 C219.59999999999997,223.2 218.09999999999997,226.5 218.59999999999997,229.5 C219.2,234.0 225.57199999999997,238.0 234.7,238.0 C243.828,238.0 250.2,234.0 250.8,229.5 C251.3,226.5 249.8,223.2 246.762,221.4 C244.48,218.6 236.2,219.2 234.7,220.3 Z" fill="url(#slice)" stroke="#3e3e3e" stroke-width="0.75" />
<path d="M220.59999999999997,223.6 C223.39999999999998,220.2 230.7,220.2 233.89999999999998,221.6 M235.5,221.6 C238.7,220.2 246.0,220.2 248.8,223.6" fill="none" stroke="#969696" stroke-width="0.9" />
<path d="M222.39999999999998,228.0 C226.39999999999998,225.0 229.7,225.0 233.7,227.0 M235.7,227.0 C239.7,225.0 243.0,225.0 247.0,228.0" fill="none" stroke="#8a8a8a" stroke-width="0.7" />
<path d="M221.39999999999998,230.5 C225.39999999999998,229.0 228.7,230.0 232.7,231.0 M236.7,231.0 C240.7,230.0 244.0,229.0 248.0,230.5" fill="none" stroke="#626262" stroke-width="0.6" />
<line x1="234.70" y1="221.00" x2="234.70" y2="228.00" stroke="#555" stroke-width="0.5" />
<path d="M241.8,221.2 C245.8,220.2 247.0,221.0 249.4,224.0 C249.8,227.0 249.0,227.8 247.0,228.6 C244.8,226.2 240.8,225.0 241.8,221.2 Z" fill="#999999" opacity="0.9"/>
<path d="M234.7,233.10000000000002 C233.2,232.0 225.16,231.4 222.93399999999997,234.20000000000002 C219.99999999999997,236.0 218.49999999999997,239.3 218.99999999999997,242.3 C219.6,246.8 225.796,250.8 234.7,250.8 C243.60399999999998,250.8 249.79999999999998,246.8 250.4,242.3 C250.9,239.3 249.4,236.0 246.466,234.20000000000002 C244.23999999999998,231.4 236.2,232.0 234.7,233.10000000000002 Z" fill="url(#slice)" stroke="#3e3e3e" stroke-width="0.75" />
<path d="M220.99999999999997,236.4 C223.79999999999998,233.0 230.7,233.0 233.89999999999998,234.4 M235.5,234.4 C238.7,233.0 245.6,233.0 248.4,236.4" fill="none" stroke="#969696" stroke-width="0.9" />
<path d="M222.79999999999998,240.8 C226.79999999999998,237.8 229.7,237.8 233.7,239.8 M235.7,239.8 C239.7,237.8 242.6,237.8 246.6,240.8" fill="none" stroke="#8a8a8a" stroke-width="0.7" />
<path d="M221.79999999999998,243.3 C225.79999999999998,241.8 228.7,242.8 232.7,243.8 M236.7,243.8 C240.7,242.8 243.6,241.8 247.6,243.3" fill="none" stroke="#626262" stroke-width="0.6" />
<line x1="234.70" y1="233.80" x2="234.70" y2="240.80" stroke="#555" stroke-width="0.5" />
<path d="M240.5,234.0 C244.5,233.0 246.6,233.8 249.0,236.8 C249.4,239.8 248.6,241.70000000000002 246.6,242.60000000000002 C243.5,239.9 239.5,237.8 240.5,234.0 Z" fill="#a5a5a5" opacity="0.9"/>
<path d="M234.7,246.60000000000002 C233.2,245.5 225.51999999999998,244.9 223.378,247.70000000000002 C220.59999999999997,249.5 219.09999999999997,252.8 219.59999999999997,255.8 C220.2,260.3 226.13199999999998,264.3 234.7,264.3 C243.268,264.3 249.2,260.3 249.8,255.8 C250.3,252.8 248.8,249.5 246.022,247.70000000000002 C243.88,244.9 236.2,245.5 234.7,246.60000000000002 Z" fill="url(#slice)" stroke="#3e3e3e" stroke-width="0.75" />
<path d="M221.59999999999997,249.9 C224.39999999999998,246.5 230.7,246.5 233.89999999999998,247.9 M235.5,247.9 C238.7,246.5 245.0,246.5 247.8,249.9" fill="none" stroke="#969696" stroke-width="0.9" />
<path d="M223.39999999999998,254.3 C227.39999999999998,251.3 229.7,251.3 233.7,253.3 M235.7,253.3 C239.7,251.3 242.0,251.3 246.0,254.3" fill="none" stroke="#8a8a8a" stroke-width="0.7" />
<path d="M222.39999999999998,256.8 C226.39999999999998,255.3 228.7,256.3 232.7,257.3 M236.7,257.3 C240.7,256.3 243.0,255.3 247.0,256.8" fill="none" stroke="#626262" stroke-width="0.6" />
<line x1="234.70" y1="247.30" x2="234.70" y2="254.30" stroke="#555" stroke-width="0.5" />
<path d="M239.0,247.5 C243.0,246.5 246.0,247.3 248.4,250.3 C248.8,253.3 248.0,256.3 246.0,257.3 C242.0,254.3 238.0,251.3 239.0,247.5 Z" fill="#b0b0b0" opacity="0.9"/>
<circle cx="231.70" cy="251.10" r="1.10" fill="#c8c8c8" />
<circle cx="237.70" cy="251.10" r="1.10" fill="#c8c8c8" />
<path d="M234.7,260.6 C233.2,259.5 226.42,258.90000000000003 224.48799999999997,261.7 C222.09999999999997,263.5 220.59999999999997,266.8 221.09999999999997,269.8 C221.7,274.3 226.97199999999998,278.3 234.7,278.3 C242.428,278.3 247.7,274.3 248.3,269.8 C248.8,266.8 247.3,263.5 244.912,261.7 C242.98,258.90000000000003 236.2,259.5 234.7,260.6 Z" fill="url(#slice)" stroke="#3e3e3e" stroke-width="0.75" />
<path d="M223.09999999999997,263.90000000000003 C225.89999999999998,260.5 230.7,260.5 233.89999999999998,261.90000000000003 M235.5,261.90000000000003 C238.7,260.5 243.5,260.5 246.3,263.90000000000003" fill="none" stroke="#969696" stroke-width="0.9" />
<path d="M224.89999999999998,268.3 C228.89999999999998,265.3 229.7,265.3 233.7,267.3 M235.7,267.3 C239.7,265.3 240.5,265.3 244.5,268.3" fill="none" stroke="#8a8a8a" stroke-width="0.7" />
<path d="M223.89999999999998,270.8 C227.89999999999998,269.3 228.7,270.3 232.7,271.3 M236.7,271.3 C240.7,270.3 241.5,269.3 245.5,270.8" fill="none" stroke="#626262" stroke-width="0.6" />
<line x1="234.70" y1="261.30" x2="234.70" y2="268.30" stroke="#555" stroke-width="0.5" />
<path d="M238.4,261.5 C242.4,260.5 244.5,261.3 246.9,264.3 C247.3,267.3 246.5,269.2 244.5,270.1 C241.4,267.40000000000003 237.4,265.3 238.4,261.5 Z" fill="#a5a5a5" opacity="0.9"/>
<path d="M234.7,273.90000000000003 C233.2,272.8 227.32,272.20000000000005 225.59799999999998,275.0 C223.59999999999997,276.8 222.09999999999997,280.1 222.59999999999997,283.1 C223.2,287.6 227.81199999999998,291.6 234.7,291.6 C241.588,291.6 246.2,287.6 246.8,283.1 C247.3,280.1 245.8,276.8 243.802,275.0 C242.07999999999998,272.20000000000005 236.2,272.8 234.7,273.90000000000003 Z" fill="url(#slice)" stroke="#3e3e3e" stroke-width="0.75" />
<path d="M224.59999999999997,277.20000000000005 C227.39999999999998,273.8 230.7,273.8 233.89999999999998,275.20000000000005 M235.5,275.20000000000005 C238.7,273.8 242.0,273.8 244.8,277.20000000000005" fill="none" stroke="#969696" stroke-width="0.9" />
<path d="M226.39999999999998,281.6 C230.39999999999998,278.6 229.7,278.6 233.7,280.6 M235.7,280.6 C239.7,278.6 239.0,278.6 243.0,281.6" fill="none" stroke="#8a8a8a" stroke-width="0.7" />
<path d="M225.39999999999998,284.1 C229.39999999999998,282.6 228.7,283.6 232.7,284.6 M236.7,284.6 C240.7,283.6 240.0,282.6 244.0,284.1" fill="none" stroke="#626262" stroke-width="0.6" />
<line x1="234.70" y1="274.60" x2="234.70" y2="281.60" stroke="#555" stroke-width="0.5" />
<path d="M234.7,286.6 C232.7,285.1 228.2,284.8 226.79999999999998,288.8 C225.6,293.8 228.2,297.8 232.7,301.7 C233.7,302.0 235.7,302.0 236.7,301.7 C241.2,297.8 243.79999999999998,293.8 242.6,288.8 C241.2,284.8 236.7,285.1 234.7,286.6 Z" fill="url(#slice)" stroke="#3e3e3e" stroke-width="0.75" />
<path d="M228.39999999999998,289.40000000000003 C231.2,286.0 230.7,286.0 233.89999999999998,287.40000000000003 M235.5,287.40000000000003 C238.7,286.0 238.2,286.0 241.0,289.40000000000003" fill="none" stroke="#969696" stroke-width="0.9" />
<path d="M230.2,293.8 C234.2,290.8 229.7,290.8 233.7,292.8 M235.7,292.8 C239.7,290.8 235.2,290.8 239.2,293.8" fill="none" stroke="#8a8a8a" stroke-width="0.7" />
<path d="M229.2,296.3 C233.2,294.8 228.7,295.8 232.7,296.8 M236.7,296.8 C240.7,295.8 236.2,294.8 240.2,296.3" fill="none" stroke="#626262" stroke-width="0.6" />
<line x1="234.70" y1="286.80" x2="234.70" y2="293.80" stroke="#555" stroke-width="0.5" />
<path d="M281.6,195.0 C280.1,193.89999999999998 271.79,193.29999999999998 269.501,196.1 C266.45,197.89999999999998 264.95,201.2 265.45,204.2 C266.05,208.7 272.444,212.7 281.6,212.7 C290.75600000000003,212.7 297.15000000000003,208.7 297.75000000000006,204.2 C298.25000000000006,201.2 296.75000000000006,197.89999999999998 293.69900000000007,196.1 C291.41,193.29999999999998 283.1,193.89999999999998 281.6,195.0 Z" fill="url(#slice)" stroke="#3e3e3e" stroke-width="0.75" />
<path d="M267.45,198.29999999999998 C270.25,194.89999999999998 277.6,194.89999999999998 280.8,196.29999999999998 M282.40000000000003,196.29999999999998 C285.6,194.89999999999998 292.95000000000005,194.89999999999998 295.75000000000006,198.29999999999998" fill="none" stroke="#969696" stroke-width="0.9" />
<path d="M269.25,202.7 C273.25,199.7 276.6,199.7 280.6,201.7 M282.6,201.7 C286.6,199.7 289.95000000000005,199.7 293.95000000000005,202.7" fill="none" stroke="#8a8a8a" stroke-width="0.7" />
<path d="M268.25,205.2 C272.25,203.7 275.6,204.7 279.6,205.7 M283.6,205.7 C287.6,204.7 290.95000000000005,203.7 294.95000000000005,205.2" fill="none" stroke="#626262" stroke-width="0.6" />
<line x1="281.60" y1="195.70" x2="281.60" y2="202.70" stroke="#555" stroke-width="0.5" />
<path d="M281.6,207.60000000000002 C280.1,206.5 271.70000000000005,205.9 269.39000000000004,208.70000000000002 C266.3,210.5 264.8,213.8 265.3,216.8 C265.90000000000003,221.3 272.36,225.3 281.6,225.3 C290.84000000000003,225.3 297.3,221.3 297.90000000000003,216.8 C298.40000000000003,213.8 296.90000000000003,210.5 293.81,208.70000000000002 C291.5,205.9 283.1,206.5 281.6,207.60000000000002 Z" fill="url(#slice)" stroke="#3e3e3e" stroke-width="0.75" />
<path d="M267.3,210.9 C270.1,207.5 277.6,207.5 280.8,208.9 M282.40000000000003,208.9 C285.6,207.5 293.1,207.5 295.90000000000003,210.9" fill="none" stroke="#969696" stroke-width="0.9" />
<path d="M269.1,215.3 C273.1,212.3 276.6,212.3 280.6,214.3 M282.6,214.3 C286.6,212.3 290.1,212.3 294.1,215.3" fill="none" stroke="#8a8a8a" stroke-width="0.7" />
<path d="M268.1,217.8 C272.1,216.3 275.6,217.3 279.6,218.3 M283.6,218.3 C287.6,217.3 291.1,216.3 295.1,217.8" fill="none" stroke="#626262" stroke-width="0.6" />
<line x1="281.60" y1="208.30" x2="281.60" y2="215.30" stroke="#555" stroke-width="0.5" />
<path d="M281.6,220.3 C280.1,219.2 271.82000000000005,218.6 269.538,221.4 C266.5,223.2 265.0,226.5 265.5,229.5 C266.1,234.0 272.47200000000004,238.0 281.6,238.0 C290.728,238.0 297.1,234.0 297.70000000000005,229.5 C298.20000000000005,226.5 296.70000000000005,223.2 293.66200000000003,221.4 C291.38,218.6 283.1,219.2 281.6,220.3 Z" fill="url(#slice)" stroke="#3e3e3e" stroke-width="0.75" />
<path d="M267.5,223.6 C270.3,220.2 277.6,220.2 280.8,221.6 M282.40000000000003,221.6 C285.6,220.2 292.90000000000003,220.2 295.70000000000005,223.6" fill="none" stroke="#969696" stroke-width="0.9" />
<path d="M269.3,228.0 C273.3,225.0 276.6,225.0 280.6,227.0 M282.6,227.0 C286.6,225.0 289.90000000000003,225.0 293.90000000000003,228.0" fill="none" stroke="#8a8a8a" stroke-width="0.7" />
<path d="M268.3,230.5 C272.3,229.0 275.6,230.0 279.6,231.0 M283.6,231.0 C287.6,230.0 290.90000000000003,229.0 294.90000000000003,230.5" fill="none" stroke="#626262" stroke-width="0.6" />
<line x1="281.60" y1="221.00" x2="281.60" y2="228.00" stroke="#555" stroke-width="0.5" />
<path d="M288.7,221.2 C292.70000000000005,220.2 293.90000000000003,221.0 296.3,224.0 C296.70000000000005,227.0 295.90000000000003,227.8 293.90000000000003,228.6 C291.70000000000005,226.2 287.70000000000005,225.0 288.7,221.2 Z" fill="#9d9d9d" opacity="0.9"/>
<path d="M281.6,233.10000000000002 C280.1,232.0 272.06,231.4 269.83400000000006,234.20000000000002 C266.90000000000003,236.0 265.40000000000003,239.3 265.90000000000003,242.3 C266.50000000000006,246.8 272.696,250.8 281.6,250.8 C290.504,250.8 296.7,246.8 297.3,242.3 C297.8,239.3 296.3,236.0 293.366,234.20000000000002 C291.14000000000004,231.4 283.1,232.0 281.6,233.10000000000002 Z" fill="url(#slice)" stroke="#3e3e3e" stroke-width="0.75" />
<path d="M267.90000000000003,236.4 C270.70000000000005,233.0 277.6,233.0 280.8,234.4 M282.40000000000003,234.4 C285.6,233.0 292.5,233.0 295.3,236.4" fill="none" stroke="#969696" stroke-width="0.9" />
<path d="M269.70000000000005,240.8 C273.70000000000005,237.8 276.6,237.8 280.6,239.8 M282.6,239.8 C286.6,237.8 289.5,237.8 293.5,240.8" fill="none" stroke="#8a8a8a" stroke-width="0.7" />
<path d="M268.70000000000005,243.3 C272.70000000000005,241.8 275.6,242.8 279.6,243.8 M283.6,243.8 C287.6,242.8 290.5,241.8 294.5,243.3" fill="none" stroke="#626262" stroke-width="0.6" />
<line x1="281.60" y1="233.80" x2="281.60" y2="240.80" stroke="#555" stroke-width="0.5" />
<path d="M287.4,234.0 C291.4,233.0 293.5,233.8 295.9,236.8 C296.3,239.8 295.5,241.70000000000002 293.5,242.60000000000002 C290.4,239.9 286.4,237.8 287.4,234.0 Z" fill="#a5a5a5" opacity="0.9"/>
<path d="M281.6,246.60000000000002 C280.1,245.5 272.42,244.9 270.278,247.70000000000002 C267.5,249.5 266.0,252.8 266.5,255.8 C267.1,260.3 273.03200000000004,264.3 281.6,264.3 C290.168,264.3 296.1,260.3 296.70000000000005,255.8 C297.20000000000005,252.8 295.70000000000005,249.5 292.922,247.70000000000002 C290.78000000000003,244.9 283.1,245.5 281.6,246.60000000000002 Z" fill="url(#slice)" stroke="#3e3e3e" stroke-width="0.75" />
<path d="M268.5,249.9 C271.3,246.5 277.6,246.5 280.8,247.9 M282.40000000000003,247.9 C285.6,246.5 291.90000000000003,246.5 294.70000000000005,249.9" fill="none" stroke="#969696" stroke-width="0.9" />
<path d="M270.3,254.3 C274.3,251.3 276.6,251.3 280.6,253.3 M282.6,253.3 C286.6,251.3 288.90000000000003,251.3 292.90000000000003,254.3" fill="none" stroke="#8a8a8a" stroke-width="0.7" />
<path d="M269.3,256.8 C273.3,255.3 275.6,256.3 279.6,257.3 M283.6,257.3 C287.6,256.3 289.90000000000003,255.3 293.90000000000003,256.8" fill="none" stroke="#626262" stroke-width="0.6" />
<line x1="281.60" y1="247.30" x2="281.60" y2="254.30" stroke="#555" stroke-width="0.5" />
<path d="M286.8,247.5 C290.8,246.5 292.90000000000003,247.3 295.3,250.3 C295.70000000000005,253.3 294.90000000000003,255.20000000000002 292.90000000000003,256.1 C289.8,253.4 285.8,251.3 286.8,247.5 Z" fill="#a8a8a8" opacity="0.9"/>
<circle cx="278.60" cy="251.10" r="1.10" fill="#c8c8c8" />
<circle cx="284.60" cy="251.10" r="1.10" fill="#c8c8c8" />
<path d="M281.6,260.6 C280.1,259.5 273.32000000000005,258.90000000000003 271.38800000000003,261.7 C269.0,263.5 267.5,266.8 268.0,269.8 C268.6,274.3 273.872,278.3 281.6,278.3 C289.32800000000003,278.3 294.6,274.3 295.20000000000005,269.8 C295.70000000000005,266.8 294.20000000000005,263.5 291.812,261.7 C289.88,258.90000000000003 283.1,259.5 281.6,260.6 Z" fill="url(#slice)" stroke="#3e3e3e" stroke-width="0.75" />
<path d="M270.0,263.90000000000003 C272.8,260.5 277.6,260.5 280.8,261.90000000000003 M282.40000000000003,261.90000000000003 C285.6,260.5 290.40000000000003,260.5 293.20000000000005,263.90000000000003" fill="none" stroke="#969696" stroke-width="0.9" />
<path d="M271.8,268.3 C275.8,265.3 276.6,265.3 280.6,267.3 M282.6,267.3 C286.6,265.3 287.40000000000003,265.3 291.40000000000003,268.3" fill="none" stroke="#8a8a8a" stroke-width="0.7" />
<path d="M270.8,270.8 C274.8,269.3 275.6,270.3 279.6,271.3 M283.6,271.3 C287.6,270.3 288.40000000000003,269.3 292.40000000000003,270.8" fill="none" stroke="#626262" stroke-width="0.6" />
<line x1="281.60" y1="261.30" x2="281.60" y2="268.30" stroke="#555" stroke-width="0.5" />
<path d="M286.2,261.5 C290.20000000000005,260.5 291.40000000000003,261.3 293.8,264.3 C294.20000000000005,267.3 293.40000000000003,268.1 291.40000000000003,268.90000000000003 C289.20000000000005,266.5 285.20000000000005,265.3 286.2,261.5 Z" fill="#9d9d9d" opacity="0.9"/>
<path d="M281.6,273.90000000000003 C280.1,272.8 274.22,272.20000000000005 272.498,275.0 C270.5,276.8 269.0,280.1 269.5,283.1 C270.1,287.6 274.71200000000005,291.6 281.6,291.6 C288.488,291.6 293.1,287.6 293.70000000000005,283.1 C294.20000000000005,280.1 292.70000000000005,276.8 290.70200000000006,275.0 C288.98,272.20000000000005 283.1,272.8 281.6,273.90000000000003 Z" fill="url(#slice)" stroke="#3e3e3e" stroke-width="0.75" />
<path d="M271.5,277.20000000000005 C274.3,273.8 277.6,273.8 280.8,275.20000000000005 M282.40000000000003,275.20000000000005 C285.6,273.8 288.90000000000003,273.8 291.70000000000005,277.20000000000005" fill="none" stroke="#969696" stroke-width="0.9" />
<path d="M273.3,281.6 C277.3,278.6 276.6,278.6 280.6,280.6 M282.6,280.6 C286.6,278.6 285.90000000000003,278.6 289.90000000000003,281.6" fill="none" stroke="#8a8a8a" stroke-width="0.7" />
<path d="M272.3,284.1 C276.3,282.6 275.6,283.6 279.6,284.6 M283.6,284.6 C287.6,283.6 286.90000000000003,282.6 290.90000000000003,284.1" fill="none" stroke="#626262" stroke-width="0.6" />
<line x1="281.60" y1="274.60" x2="281.60" y2="281.60" stroke="#555" stroke-width="0.5" />
<path d="M281.6,286.6 C279.6,285.1 275.1,284.8 273.70000000000005,288.8 C272.5,293.8 275.1,297.8 279.6,301.7 C280.6,302.0 282.6,302.0 283.6,301.7 C288.1,297.8 290.70000000000005,293.8 289.5,288.8 C288.1,284.8 283.6,285.1 281.6,286.6 Z" fill="url(#slice)" stroke="#3e3e3e" stroke-width="0.75" />
<path d="M275.3,289.40000000000003 C278.1,286.0 277.6,286.0 280.8,287.40000000000003 M282.40000000000003,287.40000000000003 C285.6,286.0 285.1,286.0 287.90000000000003,289.40000000000003" fill="none" stroke="#969696" stroke-width="0.9" />
<path d="M277.1,293.8 C281.1,290.8 276.6,290.8 280.6,292.8 M282.6,292.8 C286.6,290.8 282.1,290.8 286.1,293.8" fill="none" stroke="#8a8a8a" stroke-width="0.7" />
<path d="M276.1,296.3 C280.1,294.8 275.6,295.8 279.6,296.8 M283.6,296.8 C287.6,295.8 283.1,294.8 287.1,296.3" fill="none" stroke="#626262" stroke-width="0.6" />
<line x1="281.60" y1="286.80" x2="281.60" y2="293.80" stroke="#555" stroke-width="0.5" />
<path d="M329.2,195.0 C327.7,193.89999999999998 319.39,193.29999999999998 317.10099999999994,196.1 C314.04999999999995,197.89999999999998 312.54999999999995,201.2 313.04999999999995,204.2 C313.65,208.7 320.044,212.7 329.2,212.7 C338.356,212.7 344.75,208.7 345.35,204.2 C345.85,201.2 344.35,197.89999999999998 341.29900000000004,196.1 C339.01,193.29999999999998 330.7,193.89999999999998 329.2,195.0 Z" fill="url(#slice)" stroke="#3e3e3e" stroke-width="0.75" />
<path d="M315.04999999999995,198.29999999999998 C317.84999999999997,194.89999999999998 325.2,194.89999999999998 328.4,196.29999999999998 M330.0,196.29999999999998 C333.2,194.89999999999998 340.55,194.89999999999998 343.35,198.29999999999998" fill="none" stroke="#969696" stroke-width="0.9" />
<path d="M316.84999999999997,202.7 C320.84999999999997,199.7 324.2,199.7 328.2,201.7 M330.2,201.7 C334.2,199.7 337.55,199.7 341.55,202.7" fill="none" stroke="#8a8a8a" stroke-width="0.7" />
<path d="M315.84999999999997,205.2 C319.84999999999997,203.7 323.2,204.7 327.2,205.7 M331.2,205.7 C335.2,204.7 338.55,203.7 342.55,205.2" fill="none" stroke="#626262" stroke-width="0.6" />
<line x1="329.20" y1="195.70" x2="329.20" y2="202.70" stroke="#555" stroke-width="0.5" />
<path d="M329.2,207.60000000000002 C327.7,206.5 319.3,205.9 316.99,208.70000000000002 C313.9,210.5 312.4,213.8 312.9,216.8 C313.5,221.3 319.96,225.3 329.2,225.3 C338.44,225.3 344.9,221.3 345.5,216.8 C346.0,213.8 344.5,210.5 341.40999999999997,208.70000000000002 C339.09999999999997,205.9 330.7,206.5 329.2,207.60000000000002 Z" fill="url(#slice)" stroke="#3e3e3e" stroke-width="0.75" />
<path d="M314.9,210.9 C317.7,207.5 325.2,207.5 328.4,208.9 M330.0,208.9 C333.2,207.5 340.7,207.5 343.5,210.9" fill="none" stroke="#969696" stroke-width="0.9" />
<path d="M316.7,215.3 C320.7,212.3 324.2,212.3 328.2,214.3 M330.2,214.3 C334.2,212.3 337.7,212.3 341.7,215.3" fill="none" stroke="#8a8a8a" stroke-width="0.7" />
<path d="M315.7,217.8 C319.7,216.3 323.2,217.3 327.2,218.3 M331.2,218.3 C335.2,217.3 338.7,216.3 342.7,217.8" fill="none" stroke="#626262" stroke-width="0.6" />
<line x1="329.20" y1="208.30" x2="329.20" y2="215.30" stroke="#555" stroke-width="0.5" />
<path d="M329.2,220.3 C327.7,219.2 319.42,218.6 317.138,221.4 C314.09999999999997,223.2 312.59999999999997,226.5 313.09999999999997,229.5 C313.7,234.0 320.072,238.0 329.2,238.0 C338.328,238.0 344.7,234.0 345.3,229.5 C345.8,226.5 344.3,223.2 341.262,221.4 C338.97999999999996,218.6 330.7,219.2 329.2,220.3 Z" fill="url(#slice)" stroke="#3e3e3e" stroke-width="0.75" />
<path d="M315.09999999999997,223.6 C317.9,220.2 325.2,220.2 328.4,221.6 M330.0,221.6 C333.2,220.2 340.5,220.2 343.3,223.6" fill="none" stroke="#969696" stroke-width="0.9" />
<path d="M316.9,228.0 C320.9,225.0 324.2,225.0 328.2,227.0 M330.2,227.0 C334.2,225.0 337.5,225.0 341.5,228.0" fill="none" stroke="#8a8a8a" stroke-width="0.7" />
<path d="M315.9,230.5 C319.9,229.0 323.2,230.0 327.2,231.0 M331.2,231.0 C335.2,230.0 338.5,229.0 342.5,230.5" fill="none" stroke="#626262" stroke-width="0.6" />
<line x1="329.20" y1="221.00" x2="329.20" y2="228.00" stroke="#555" stroke-width="0.5" />
<path d="M337.2,221.2 C341.2,220.2 341.5,221.0 343.9,224.0 C344.3,227.0 343.5,226.7 341.5,227.4 C340.2,225.3 336.2,225.0 337.2,221.2 Z" fill="#929292" opacity="0.9"/>
<path d="M329.2,233.10000000000002 C327.7,232.0 319.65999999999997,231.4 317.434,234.20000000000002 C314.5,236.0 313.0,239.3 313.5,242.3 C314.1,246.8 320.296,250.8 329.2,250.8 C338.104,250.8 344.29999999999995,246.8 344.9,242.3 C345.4,239.3 343.9,236.0 340.96599999999995,234.20000000000002 C338.74,231.4 330.7,232.0 329.2,233.10000000000002 Z" fill="url(#slice)" stroke="#3e3e3e" stroke-width="0.75" />
<path d="M315.5,236.4 C318.3,233.0 325.2,233.0 328.4,234.4 M330.0,234.4 C333.2,233.0 340.09999999999997,233.0 342.9,236.4" fill="none" stroke="#969696" stroke-width="0.9" />
<path d="M317.3,240.8 C321.3,237.8 324.2,237.8 328.2,239.8 M330.2,239.8 C334.2,237.8 337.09999999999997,237.8 341.09999999999997,240.8" fill="none" stroke="#8a8a8a" stroke-width="0.7" />
<path d="M316.3,243.3 C320.3,241.8 323.2,242.8 327.2,243.8 M331.2,243.8 C335.2,242.8 338.09999999999997,241.8 342.09999999999997,243.3" fill="none" stroke="#626262" stroke-width="0.6" />
<line x1="329.20" y1="233.80" x2="329.20" y2="240.80" stroke="#555" stroke-width="0.5" />
<path d="M335.9,234.0 C339.9,233.0 341.09999999999997,233.8 343.49999999999994,236.8 C343.9,239.8 343.09999999999997,240.60000000000002 341.09999999999997,241.4 C338.9,239.0 334.9,237.8 335.9,234.0 Z" fill="#9d9d9d" opacity="0.9"/>
<path d="M329.2,246.60000000000002 C327.7,245.5 320.02,244.9 317.878,247.70000000000002 C315.09999999999997,249.5 313.59999999999997,252.8 314.09999999999997,255.8 C314.7,260.3 320.632,264.3 329.2,264.3 C337.768,264.3 343.7,260.3 344.3,255.8 C344.8,252.8 343.3,249.5 340.522,247.70000000000002 C338.38,244.9 330.7,245.5 329.2,246.60000000000002 Z" fill="url(#slice)" stroke="#3e3e3e" stroke-width="0.75" />
<path d="M316.09999999999997,249.9 C318.9,246.5 325.2,246.5 328.4,247.9 M330.0,247.9 C333.2,246.5 339.5,246.5 342.3,249.9" fill="none" stroke="#969696" stroke-width="0.9" />
<path d="M317.9,254.3 C321.9,251.3 324.2,251.3 328.2,253.3 M330.2,253.3 C334.2,251.3 336.5,251.3 340.5,254.3" fill="none" stroke="#8a8a8a" stroke-width="0.7" />
<path d="M316.9,256.8 C320.9,255.3 323.2,256.3 327.2,257.3 M331.2,257.3 C335.2,256.3 337.5,255.3 341.5,256.8" fill="none" stroke="#626262" stroke-width="0.6" />
<line x1="329.20" y1="247.30" x2="329.20" y2="254.30" stroke="#555" stroke-width="0.5" />
<path d="M334.4,247.5 C338.4,246.5 340.5,247.3 342.9,250.3 C343.3,253.3 342.5,255.20000000000002 340.5,256.1 C337.4,253.4 333.4,251.3 334.4,247.5 Z" fill="#a1a1a1" opacity="0.9"/>
<path d="M329.2,260.6 C327.7,259.5 320.92,258.90000000000003 318.988,261.7 C316.59999999999997,263.5 315.09999999999997,266.8 315.59999999999997,269.8 C316.2,274.3 321.472,278.3 329.2,278.3 C336.928,278.3 342.2,274.3 342.8,269.8 C343.3,266.8 341.8,263.5 339.412,261.7 C337.47999999999996,258.90000000000003 330.7,259.5 329.2,260.6 Z" fill="url(#slice)" stroke="#3e3e3e" stroke-width="0.75" />
<path d="M317.59999999999997,263.90000000000003 C320.4,260.5 325.2,260.5 328.4,261.90000000000003 M330.0,261.90000000000003 C333.2,260.5 338.0,260.5 340.8,263.90000000000003" fill="none" stroke="#969696" stroke-width="0.9" />
<path d="M319.4,268.3 C323.4,265.3 324.2,265.3 328.2,267.3 M330.2,267.3 C334.2,265.3 335.0,265.3 339.0,268.3" fill="none" stroke="#8a8a8a" stroke-width="0.7" />
<path d="M318.4,270.8 C322.4,269.3 323.2,270.3 327.2,271.3 M331.2,271.3 C335.2,270.3 336.0,269.3 340.0,270.8" fill="none" stroke="#626262" stroke-width="0.6" />
<line x1="329.20" y1="261.30" x2="329.20" y2="268.30" stroke="#555" stroke-width="0.5" />
<path d="M332.9,261.5 C336.9,260.5 339.0,261.3 341.4,264.3 C341.8,267.3 341.0,269.2 339.0,270.1 C335.9,267.40000000000003 331.9,265.3 332.9,261.5 Z" fill="#a5a5a5" opacity="0.9"/>
<path d="M329.2,273.90000000000003 C327.7,272.8 321.82,272.20000000000005 320.09799999999996,275.0 C318.09999999999997,276.8 316.59999999999997,280.1 317.09999999999997,283.1 C317.7,287.6 322.312,291.6 329.2,291.6 C336.08799999999997,291.6 340.7,287.6 341.3,283.1 C341.8,280.1 340.3,276.8 338.302,275.0 C336.58,272.20000000000005 330.7,272.8 329.2,273.90000000000003 Z" fill="url(#slice)" stroke="#3e3e3e" stroke-width="0.75" />
<path d="M319.09999999999997,277.20000000000005 C321.9,273.8 325.2,273.8 328.4,275.20000000000005 M330.0,275.20000000000005 C333.2,273.8 336.5,273.8 339.3,277.20000000000005" fill="none" stroke="#969696" stroke-width="0.9" />
<path d="M320.9,281.6 C324.9,278.6 324.2,278.6 328.2,280.6 M330.2,280.6 C334.2,278.6 333.5,278.6 337.5,281.6" fill="none" stroke="#8a8a8a" stroke-width="0.7" />
<path d="M319.9,284.1 C323.9,282.6 323.2,283.6 327.2,284.6 M331.2,284.6 C335.2,283.6 334.5,282.6 338.5,284.1" fill="none" stroke="#626262" stroke-width="0.6" />
<line x1="329.20" y1="274.60" x2="329.20" y2="281.60" stroke="#555" stroke-width="0.5" />
<path d="M329.2,286.6 C327.2,285.1 322.7,284.8 321.3,288.8 C320.09999999999997,293.8 322.7,297.8 327.2,301.7 C328.2,302.0 330.2,302.0 331.2,301.7 C335.7,297.8 338.3,293.8 337.09999999999997,288.8 C335.7,284.8 331.2,285.1 329.2,286.6 Z" fill="url(#slice)" stroke="#3e3e3e" stroke-width="0.75" />
<path d="M322.9,289.40000000000003 C325.7,286.0 325.2,286.0 328.4,287.40000000000003 M330.0,287.40000000000003 C333.2,286.0 332.7,286.0 335.5,289.40000000000003" fill="none" stroke="#969696" stroke-width="0.9" />
<path d="M324.7,293.8 C328.7,290.8 324.2,290.8 328.2,292.8 M330.2,292.8 C334.2,290.8 329.7,290.8 333.7,293.8" fill="none" stroke="#8a8a8a" stroke-width="0.7" />
<path d="M323.7,296.3 C327.7,294.8 323.2,295.8 327.2,296.8 M331.2,296.8 C335.2,295.8 330.7,294.8 334.7,296.3" fill="none" stroke="#626262" stroke-width="0.6" />
<line x1="329.20" y1="286.80" x2="329.20" y2="293.80" stroke="#555" stroke-width="0.5" />
<path d="M376.2,195.0 C374.7,193.89999999999998 366.39,193.29999999999998 364.10099999999994,196.1 C361.04999999999995,197.89999999999998 359.54999999999995,201.2 360.04999999999995,204.2 C360.65,208.7 367.044,212.7 376.2,212.7 C385.356,212.7 391.75,208.7 392.35,204.2 C392.85,201.2 391.35,197.89999999999998 388.29900000000004,196.1 C386.01,193.29999999999998 377.7,193.89999999999998 376.2,195.0 Z" fill="url(#slice)" stroke="#3e3e3e" stroke-width="0.75" />
<path d="M362.04999999999995,198.29999999999998 C364.84999999999997,194.89999999999998 372.2,194.89999999999998 375.4,196.29999999999998 M377.0,196.29999999999998 C380.2,194.89999999999998 387.55,194.89999999999998 390.35,198.29999999999998" fill="none" stroke="#969696" stroke-width="0.9" />
<path d="M363.84999999999997,202.7 C367.84999999999997,199.7 371.2,199.7 375.2,201.7 M377.2,201.7 C381.2,199.7 384.55,199.7 388.55,202.7" fill="none" stroke="#8a8a8a" stroke-width="0.7" />
<path d="M362.84999999999997,205.2 C366.84999999999997,203.7 370.2,204.7 374.2,205.7 M378.2,205.7 C382.2,204.7 385.55,203.7 389.55,205.2" fill="none" stroke="#626262" stroke-width="0.6" />
<line x1="376.20" y1="195.70" x2="376.20" y2="202.70" stroke="#555" stroke-width="0.5" />
<path d="M376.2,207.60000000000002 C374.7,206.5 366.3,205.9 363.99,208.70000000000002 C360.9,210.5 359.4,213.8 359.9,216.8 C360.5,221.3 366.96,225.3 376.2,225.3 C385.44,225.3 391.9,221.3 392.5,216.8 C393.0,213.8 391.5,210.5 388.40999999999997,208.70000000000002 C386.09999999999997,205.9 377.7,206.5 376.2,207.60000000000002 Z" fill="url(#slice)" stroke="#3e3e3e" stroke-width="0.75" />
<path d="M361.9,210.9 C364.7,207.5 372.2,207.5 375.4,208.9 M377.0,208.9 C380.2,207.5 387.7,207.5 390.5,210.9" fill="none" stroke="#969696" stroke-width="0.9" />
<path d="M363.7,215.3 C367.7,212.3 371.2,212.3 375.2,214.3 M377.2,214.3 C381.2,212.3 384.7,212.3 388.7,215.3" fill="none" stroke="#8a8a8a" stroke-width="0.7" />
<path d="M362.7,217.8 C366.7,216.3 370.2,217.3 374.2,218.3 M378.2,218.3 C382.2,217.3 385.7,216.3 389.7,217.8" fill="none" stroke="#626262" stroke-width="0.6" />
<line x1="376.20" y1="208.30" x2="376.20" y2="215.30" stroke="#555" stroke-width="0.5" />
<path d="M376.2,220.3 C374.7,219.2 366.42,218.6 364.138,221.4 C361.09999999999997,223.2 359.59999999999997,226.5 360.09999999999997,229.5 C360.7,234.0 367.072,238.0 376.2,238.0 C385.328,238.0 391.7,234.0 392.3,229.5 C392.8,226.5 391.3,223.2 388.262,221.4 C385.97999999999996,218.6 377.7,219.2 376.2,220.3 Z" fill="url(#slice)" stroke="#3e3e3e" stroke-width="0.75" />
<path d="M362.09999999999997,223.6 C364.9,220.2 372.2,220.2 375.4,221.6 M377.0,221.6 C380.2,220.2 387.5,220.2 390.3,223.6" fill="none" stroke="#969696" stroke-width="0.9" />
<path d="M363.9,228.0 C367.9,225.0 371.2,225.0 375.2,227.0 M377.2,227.0 C381.2,225.0 384.5,225.0 388.5,228.0" fill="none" stroke="#8a8a8a" stroke-width="0.7" />
<path d="M362.9,230.5 C366.9,229.0 370.2,230.0 374.2,231.0 M378.2,231.0 C382.2,230.0 385.5,229.0 389.5,230.5" fill="none" stroke="#626262" stroke-width="0.6" />
<line x1="376.20" y1="221.00" x2="376.20" y2="228.00" stroke="#555" stroke-width="0.5" />
<path d="M376.2,233.10000000000002 C374.7,232.0 366.65999999999997,231.4 364.434,234.20000000000002 C361.5,236.0 360.0,239.3 360.5,242.3 C361.1,246.8 367.296,250.8 376.2,250.8 C385.104,250.8 391.29999999999995,246.8 391.9,242.3 C392.4,239.3 390.9,236.0 387.96599999999995,234.20000000000002 C385.74,231.4 377.7,232.0 376.2,233.10000000000002 Z" fill="url(#slice)" stroke="#3e3e3e" stroke-width="0.75" />
<path d="M362.5,236.4 C365.3,233.0 372.2,233.0 375.4,234.4 M377.0,234.4 C380.2,233.0 387.09999999999997,233.0 389.9,236.4" fill="none" stroke="#969696" stroke-width="0.9" />
<path d="M364.3,240.8 C368.3,237.8 371.2,237.8 375.2,239.8 M377.2,239.8 C381.2,237.8 384.09999999999997,237.8 388.09999999999997,240.8" fill="none" stroke="#8a8a8a" stroke-width="0.7" />
<path d="M363.3,243.3 C367.3,241.8 370.2,242.8 374.2,243.8 M378.2,243.8 C382.2,242.8 385.09999999999997,241.8 389.09999999999997,243.3" fill="none" stroke="#626262" stroke-width="0.6" />
<line x1="376.20" y1="233.80" x2="376.20" y2="240.80" stroke="#555" stroke-width="0.5" />
<circle cx="372.70" cy="237.80" r="1.10" fill="#b8b8b8" />
<circle cx="379.70" cy="237.80" r="1.10" fill="#b8b8b8" />
<path d="M376.2,246.60000000000002 C374.7,245.5 367.02,244.9 364.878,247.70000000000002 C362.09999999999997,249.5 360.59999999999997,252.8 361.09999999999997,255.8 C361.7,260.3 367.632,264.3 376.2,264.3 C384.768,264.3 390.7,260.3 391.3,255.8 C391.8,252.8 390.3,249.5 387.522,247.70000000000002 C385.38,244.9 377.7,245.5 376.2,246.60000000000002 Z" fill="url(#slice)" stroke="#3e3e3e" stroke-width="0.75" />
<path d="M363.09999999999997,249.9 C365.9,246.5 372.2,246.5 375.4,247.9 M377.0,247.9 C380.2,246.5 386.5,246.5 389.3,249.9" fill="none" stroke="#969696" stroke-width="0.9" />
<path d="M364.9,254.3 C368.9,251.3 371.2,251.3 375.2,253.3 M377.2,253.3 C381.2,251.3 383.5,251.3 387.5,254.3" fill="none" stroke="#8a8a8a" stroke-width="0.7" />
<path d="M363.9,256.8 C367.9,255.3 370.2,256.3 374.2,257.3 M378.2,257.3 C382.2,256.3 384.5,255.3 388.5,256.8" fill="none" stroke="#626262" stroke-width="0.6" />
<line x1="376.20" y1="247.30" x2="376.20" y2="254.30" stroke="#555" stroke-width="0.5" />
<path d="M383.2,247.5 C387.2,246.5 387.5,247.3 389.9,250.3 C390.3,253.3 389.5,253.0 387.5,253.70000000000002 C386.2,251.60000000000002 382.2,251.3 383.2,247.5 Z" fill="#929292" opacity="0.9"/>
<circle cx="372.70" cy="251.30" r="1.10" fill="#b8b8b8" />
<circle cx="379.70" cy="251.30" r="1.10" fill="#b8b8b8" />
<path d="M376.2,260.6 C374.7,259.5 367.92,258.90000000000003 365.988,261.7 C363.59999999999997,263.5 362.09999999999997,266.8 362.59999999999997,269.8 C363.2,274.3 368.472,278.3 376.2,278.3 C383.928,278.3 389.2,274.3 389.8,269.8 C390.3,266.8 388.8,263.5 386.412,261.7 C384.47999999999996,258.90000000000003 377.7,259.5 376.2,260.6 Z" fill="url(#slice)" stroke="#3e3e3e" stroke-width="0.75" />
<path d="M364.59999999999997,263.90000000000003 C367.4,260.5 372.2,260.5 375.4,261.90000000000003 M377.0,261.90000000000003 C380.2,260.5 385.0,260.5 387.8,263.90000000000003" fill="none" stroke="#969696" stroke-width="0.9" />
<path d="M366.4,268.3 C370.4,265.3 371.2,265.3 375.2,267.3 M377.2,267.3 C381.2,265.3 382.0,265.3 386.0,268.3" fill="none" stroke="#8a8a8a" stroke-width="0.7" />
<path d="M365.4,270.8 C369.4,269.3 370.2,270.3 374.2,271.3 M378.2,271.3 C382.2,270.3 383.0,269.3 387.0,270.8" fill="none" stroke="#626262" stroke-width="0.6" />
<line x1="376.20" y1="261.30" x2="376.20" y2="268.30" stroke="#555" stroke-width="0.5" />
<path d="M376.2,273.90000000000003 C374.7,272.8 368.82,272.20000000000005 367.09799999999996,275.0 C365.09999999999997,276.8 363.59999999999997,280.1 364.09999999999997,283.1 C364.7,287.6 369.312,291.6 376.2,291.6 C383.08799999999997,291.6 387.7,287.6 388.3,283.1 C388.8,280.1 387.3,276.8 385.302,275.0 C383.58,272.20000000000005 377.7,272.8 376.2,273.90000000000003 Z" fill="url(#slice)" stroke="#3e3e3e" stroke-width="0.75" />
<path d="M366.09999999999997,277.20000000000005 C368.9,273.8 372.2,273.8 375.4,275.20000000000005 M377.0,275.20000000000005 C380.2,273.8 383.5,273.8 386.3,277.20000000000005" fill="none" stroke="#969696" stroke-width="0.9" />
<path d="M367.9,281.6 C371.9,278.6 371.2,278.6 375.2,280.6 M377.2,280.6 C381.2,278.6 380.5,278.6 384.5,281.6" fill="none" stroke="#8a8a8a" stroke-width="0.7" />
<path d="M366.9,284.1 C370.9,282.6 370.2,283.6 374.2,284.6 M378.2,284.6 C382.2,283.6 381.5,282.6 385.5,284.1" fill="none" stroke="#626262" stroke-width="0.6" />
<line x1="376.20" y1="274.60" x2="376.20" y2="281.60" stroke="#555" stroke-width="0.5" />
<path d="M376.2,286.6 C374.2,285.1 369.7,284.8 368.3,288.8 C367.09999999999997,293.8 369.7,297.8 374.2,301.7 C375.2,302.0 377.2,302.0 378.2,301.7 C382.7,297.8 385.3,293.8 384.09999999999997,288.8 C382.7,284.8 378.2,285.1 376.2,286.6 Z" fill="url(#slice)" stroke="#3e3e3e" stroke-width="0.75" />
<path d="M369.9,289.40000000000003 C372.7,286.0 372.2,286.0 375.4,287.40000000000003 M377.0,287.40000000000003 C380.2,286.0 379.7,286.0 382.5,289.40000000000003" fill="none" stroke="#969696" stroke-width="0.9" />
<path d="M371.7,293.8 C375.7,290.8 371.2,290.8 375.2,292.8 M377.2,292.8 C381.2,290.8 376.7,290.8 380.7,293.8" fill="none" stroke="#8a8a8a" stroke-width="0.7" />
<path d="M370.7,296.3 C374.7,294.8 370.2,295.8 374.2,296.8 M378.2,296.8 C382.2,295.8 377.7,294.8 381.7,296.3" fill="none" stroke="#626262" stroke-width="0.6" />
<line x1="376.20" y1="286.80" x2="376.20" y2="293.80" stroke="#555" stroke-width="0.5" />
<line x1="181.20" y1="308.90" x2="193.80" y2="308.90" stroke="#7cc47a" stroke-width="1.7" />
<line x1="228.00" y1="308.90" x2="240.60" y2="308.90" stroke="#8a7a98" stroke-width="1.7" />
<line x1="275.90" y1="308.90" x2="288.50" y2="308.90" stroke="#9c9272" stroke-width="1.7" />
<line x1="325.40" y1="308.90" x2="338.00" y2="308.90" stroke="#e878ae" stroke-width="1.7" />
<line x1="369.40" y1="308.90" x2="382.00" y2="308.90" stroke="#f5de7a" stroke-width="1.7" />
<text x="187.50" y="318.80" font-size="7.8" text-anchor="middle" fill="#222" stroke="#222" stroke-width="0.1" font-weight="normal" font-style="normal" >STZ</text>
<text x="234.10" y="318.80" font-size="7.8" text-anchor="middle" fill="#222" stroke="#222" stroke-width="0.1" font-weight="normal" font-style="normal" >STZ-rtPA</text>
<text x="282.30" y="318.80" font-size="7.8" text-anchor="middle" fill="#222" stroke="#222" stroke-width="0.1" font-weight="normal" font-style="normal" >STZ-Gluno</text>
<text x="332.20" y="318.80" font-size="7.8" text-anchor="middle" fill="#222" stroke="#222" stroke-width="0.1" font-weight="normal" font-style="normal" >STZ-Gluno</text>
<text x="332.40" y="327.60" font-size="7.8" text-anchor="middle" fill="#222" stroke="#222" stroke-width="0.1" font-weight="normal" font-style="normal" >-rtPA</text>
<text x="375.80" y="318.80" font-size="7.8" text-anchor="middle" fill="#222" stroke="#222" stroke-width="0.1" font-weight="normal" font-style="normal" >STZ-NAC</text>
<text x="375.90" y="327.60" font-size="7.8" text-anchor="middle" fill="#222" stroke="#222" stroke-width="0.1" font-weight="normal" font-style="normal" >-Gluno</text>
<line x1="414.50" y1="195.00" x2="414.50" y2="305.00" stroke="#222" stroke-width="0.9" />
<line x1="414.50" y1="305.00" x2="472.30" y2="305.00" stroke="#222" stroke-width="0.9" />
<line x1="414.50" y1="305.00" x2="414.50" y2="308.00" stroke="#222" stroke-width="0.8" />
<line x1="443.20" y1="305.00" x2="443.20" y2="308.00" stroke="#222" stroke-width="0.8" />
<line x1="472.00" y1="305.00" x2="472.00" y2="308.00" stroke="#222" stroke-width="0.8" />
<text x="414.50" y="317.30" font-size="7.5" text-anchor="middle" fill="#222" stroke="#222" stroke-width="0.1" font-weight="normal" font-style="normal" >0</text>
<line x1="412.00" y1="203.00" x2="414.50" y2="203.00" stroke="#222" stroke-width="0.7" />
<text x="408.30" y="205.80" font-size="8.1" text-anchor="end" fill="#222" stroke="#222" stroke-width="0.1" font-weight="normal" font-style="normal" >&#946;&#8722;4</text>
<line x1="412.00" y1="216.20" x2="414.50" y2="216.20" stroke="#222" stroke-width="0.7" />
<text x="408.30" y="219.00" font-size="8.1" text-anchor="end" fill="#222" stroke="#222" stroke-width="0.1" font-weight="normal" font-style="normal" >&#946;&#8722;3</text>
<line x1="412.00" y1="229.40" x2="414.50" y2="229.40" stroke="#222" stroke-width="0.7" />
<text x="408.30" y="232.20" font-size="8.1" text-anchor="end" fill="#222" stroke="#222" stroke-width="0.1" font-weight="normal" font-style="normal" >&#946;&#8722;2</text>
<line x1="412.00" y1="242.60" x2="414.50" y2="242.60" stroke="#222" stroke-width="0.7" />
<text x="408.30" y="245.40" font-size="8.1" text-anchor="end" fill="#222" stroke="#222" stroke-width="0.1" font-weight="normal" font-style="normal" >&#946;&#8722;1</text>
<line x1="412.00" y1="255.80" x2="414.50" y2="255.80" stroke="#222" stroke-width="0.7" />
<text x="408.30" y="258.60" font-size="8.1" text-anchor="end" fill="#222" stroke="#222" stroke-width="0.1" font-weight="normal" font-style="normal" >&#946;</text>
<line x1="412.00" y1="269.00" x2="414.50" y2="269.00" stroke="#222" stroke-width="0.7" />
<text x="408.30" y="271.80" font-size="8.1" text-anchor="end" fill="#222" stroke="#222" stroke-width="0.1" font-weight="normal" font-style="normal" >&#946;+1</text>
<line x1="412.00" y1="282.20" x2="414.50" y2="282.20" stroke="#222" stroke-width="0.7" />
<text x="408.30" y="285.00" font-size="8.1" text-anchor="end" fill="#222" stroke="#222" stroke-width="0.1" font-weight="normal" font-style="normal" >&#946;+2</text>
<line x1="412.00" y1="295.40" x2="414.50" y2="295.40" stroke="#222" stroke-width="0.7" />
<text x="408.30" y="298.20" font-size="8.1" text-anchor="end" fill="#222" stroke="#222" stroke-width="0.1" font-weight="normal" font-style="normal" >&#946;+3</text>
<path d="M414.3,197.8 C414.8,199.1 416.2,203.1 417.2,205.8 C418.3,208.5 419.3,211.0 420.6,213.8 C421.8,216.6 423.5,220.0 424.9,222.8 C426.4,225.6 427.9,227.8 429.4,230.8 C430.8,233.8 432.5,237.8 433.8,240.8 C435.0,243.8 436.2,246.1 437.1,248.8 C437.9,251.5 438.5,254.5 438.7,256.8 C438.9,259.1 439.0,260.5 438.1,262.8 C437.3,265.1 435.6,268.1 433.8,270.8 C431.9,273.5 429.3,276.5 427.1,278.8 C424.9,281.1 422.4,282.8 420.6,284.8 C418.7,286.8 417.2,288.6 416.1,290.8 C415.1,293.0 414.6,296.6 414.3,297.8" fill="none" stroke="#f8dc80" stroke-width="1.4" />
<path d="M414.3,197.3 C414.8,198.6 416.1,202.6 417.1,205.3 C418.1,208.0 419.0,210.5 420.3,213.3 C421.5,216.1 423.1,219.5 424.5,222.3 C425.9,225.1 427.3,227.3 428.7,230.3 C430.1,233.3 431.6,237.3 432.9,240.3 C434.1,243.3 435.2,245.6 436.0,248.3 C436.8,251.0 437.4,254.0 437.6,256.3 C437.8,258.6 437.9,260.0 437.1,262.3 C436.3,264.6 434.6,267.6 432.9,270.3 C431.1,273.0 428.7,276.0 426.6,278.3 C424.5,280.6 422.0,282.3 420.3,284.3 C418.5,286.3 417.1,288.1 416.1,290.3 C415.1,292.5 414.6,296.1 414.3,297.3" fill="none" stroke="#f4a850" stroke-width="1.1" />
<path d="M414.3,196.5 C414.8,197.8 416.1,201.8 417.0,204.5 C417.9,207.2 418.8,209.7 420.0,212.5 C421.2,215.3 422.7,218.7 424.0,221.5 C425.3,224.3 426.7,226.5 428.0,229.5 C429.3,232.5 430.8,236.5 432.0,239.5 C433.2,242.5 434.2,244.8 435.0,247.5 C435.8,250.2 436.3,253.2 436.5,255.5 C436.7,257.8 436.8,259.2 436.0,261.5 C435.2,263.8 433.7,266.8 432.0,269.5 C430.3,272.2 428.0,275.2 426.0,277.5 C424.0,279.8 421.7,281.5 420.0,283.5 C418.3,285.5 416.9,287.3 416.0,289.5 C415.1,291.7 414.6,295.3 414.3,296.5" fill="none" stroke="#e47ab4" stroke-width="1.0" />
<path d="M414.3,197.0 C414.7,198.3 416.0,202.3 416.9,205.0 C417.8,207.7 418.7,210.2 419.8,213.0 C420.9,215.8 422.3,219.2 423.6,222.0 C424.9,224.8 426.2,227.0 427.5,230.0 C428.7,233.0 430.2,237.0 431.3,240.0 C432.4,243.0 433.5,245.3 434.2,248.0 C434.9,250.7 435.5,253.7 435.6,256.0 C435.8,258.3 435.9,259.7 435.1,262.0 C434.4,264.3 432.9,267.3 431.3,270.0 C429.7,272.7 427.5,275.7 425.5,278.0 C423.6,280.3 421.4,282.0 419.8,284.0 C418.2,286.0 416.9,287.8 415.9,290.0 C415.0,292.2 414.6,295.8 414.3,297.0" fill="none" stroke="#b8303c" stroke-width="1.1" />
<path d="M414.3,198.0 C414.7,199.3 415.9,203.3 416.8,206.0 C417.7,208.7 418.5,211.2 419.6,214.0 C420.6,216.8 422.0,220.2 423.2,223.0 C424.5,225.8 425.7,228.0 426.9,231.0 C428.1,234.0 429.5,238.0 430.6,241.0 C431.7,244.0 432.7,246.3 433.4,249.0 C434.1,251.7 434.6,254.7 434.7,257.0 C434.9,259.3 435.0,260.7 434.3,263.0 C433.6,265.3 432.1,268.3 430.6,271.0 C429.1,273.7 426.9,276.7 425.1,279.0 C423.2,281.3 421.1,283.0 419.6,285.0 C418.0,287.0 416.8,288.8 415.9,291.0 C415.0,293.2 414.6,296.8 414.3,298.0" fill="none" stroke="#c05060" stroke-width="0.7" />
<path d="M414.3,195.5 C414.9,196.3 416.3,198.5 417.8,200.5 C419.3,202.5 421.6,205.3 423.4,207.5 C425.3,209.7 427.5,211.7 429.1,213.5 C430.6,215.3 431.6,216.5 432.8,218.5 C434.1,220.5 435.3,223.2 436.6,225.5 C437.8,227.8 439.3,230.3 440.4,232.5 C441.4,234.7 442.4,236.7 443.2,238.5 C444.0,240.3 444.5,241.5 445.1,243.5 C445.6,245.5 446.1,248.3 446.5,250.5 C446.8,252.7 446.8,254.7 446.9,256.5 C447.1,258.3 447.5,259.9 447.2,261.5 C446.9,263.1 446.4,264.2 445.1,266.0 C443.7,267.8 441.6,270.4 439.4,272.5 C437.2,274.6 434.4,276.7 431.9,278.5 C429.4,280.3 426.4,282.0 424.4,283.5 C422.3,285.0 421.1,286.0 419.7,287.5 C418.3,289.0 416.8,290.8 415.9,292.5 C415.0,294.2 414.6,296.7 414.3,297.5" fill="none" stroke="#8a68c0" stroke-width="1.1" />
<path d="M414.3,194.4 C414.9,195.2 416.4,197.4 418.0,199.4 C419.6,201.4 422.0,204.2 424.0,206.4 C426.0,208.6 428.3,210.6 430.0,212.4 C431.7,214.2 432.7,215.4 434.0,217.4 C435.3,219.4 436.7,222.1 438.0,224.4 C439.3,226.7 440.8,229.2 442.0,231.4 C443.2,233.6 444.2,235.6 445.0,237.4 C445.8,239.2 446.4,240.4 447.0,242.4 C447.6,244.4 448.2,247.2 448.5,249.4 C448.8,251.6 448.9,253.6 449.0,255.4 C449.1,257.2 449.6,258.8 449.3,260.4 C449.0,262.0 448.4,263.1 447.0,264.9 C445.6,266.7 443.3,269.3 441.0,271.4 C438.7,273.5 435.7,275.6 433.0,277.4 C430.3,279.2 427.2,280.9 425.0,282.4 C422.8,283.9 421.5,284.9 420.0,286.4 C418.5,287.9 416.9,289.7 416.0,291.4 C415.1,293.1 414.6,295.6 414.3,296.4" fill="none" stroke="#3a8a44" stroke-width="1.1" />
<path d="M414.3,195.4 C414.9,196.2 416.4,198.4 418.0,200.4 C419.6,202.4 422.0,205.2 424.0,207.4 C426.0,209.6 428.3,211.6 430.0,213.4 C431.7,215.2 432.7,216.4 434.0,218.4 C435.3,220.4 436.7,223.1 438.0,225.4 C439.3,227.7 440.8,230.2 442.0,232.4 C443.2,234.6 444.2,236.6 445.0,238.4 C445.8,240.2 446.4,241.4 447.0,243.4 C447.6,245.4 448.2,248.2 448.5,250.4 C448.8,252.6 448.9,254.6 449.0,256.4 C449.1,258.2 449.6,259.8 449.3,261.4 C449.0,263.0 448.4,264.1 447.0,265.9 C445.6,267.7 443.3,270.3 441.0,272.4 C438.7,274.5 435.7,276.6 433.0,278.4 C430.3,280.2 427.2,281.9 425.0,283.4 C422.8,284.9 421.5,285.9 420.0,287.4 C418.5,288.9 416.9,290.7 416.0,292.4 C415.1,294.1 414.6,296.6 414.3,297.4" fill="none" stroke="#2a2e40" stroke-width="1.2" />
<text transform="translate(481.2,248.8) rotate(90)" font-size="8.8" text-anchor="middle" fill="#222" stroke="#222" stroke-width="0.1" textLength="82" lengthAdjust="spacingAndGlyphs">Distance from bregma (mm)</text>
<text x="443" y="333" font-size="8.8" text-anchor="middle" fill="#222" stroke="#222" stroke-width="0.1" textLength="53" lengthAdjust="spacingAndGlyphs">Infarct area (mm<tspan font-size="5" dy="-3">2</tspan><tspan dy="3">)</tspan></text>
<text x="6.40" y="377.60" font-size="11.2" text-anchor="start" fill="#111" stroke="#111" stroke-width="0.1" font-weight="bold" font-style="normal" >D</text>
<line x1="51.20" y1="388.80" x2="51.20" y2="491.80" stroke="#222" stroke-width="0.9" />
<line x1="51.20" y1="491.80" x2="197.00" y2="491.80" stroke="#222" stroke-width="0.9" />
<line x1="48.70" y1="491.80" x2="51.20" y2="491.80" stroke="#222" stroke-width="0.8" />
<text x="44.80" y="495.30" font-size="8.4" text-anchor="end" fill="#222" stroke="#222" stroke-width="0.1" font-weight="normal" font-style="normal" >0</text>
<line x1="48.70" y1="471.80" x2="51.20" y2="471.80" stroke="#222" stroke-width="0.8" />
<text x="44.80" y="475.30" font-size="8.4" text-anchor="end" fill="#222" stroke="#222" stroke-width="0.1" font-weight="normal" font-style="normal" >20</text>
<line x1="48.70" y1="451.80" x2="51.20" y2="451.80" stroke="#222" stroke-width="0.8" />
<text x="44.80" y="455.30" font-size="8.4" text-anchor="end" fill="#222" stroke="#222" stroke-width="0.1" font-weight="normal" font-style="normal" >40</text>
<line x1="48.70" y1="431.80" x2="51.20" y2="431.80" stroke="#222" stroke-width="0.8" />
<text x="44.80" y="435.30" font-size="8.4" text-anchor="end" fill="#222" stroke="#222" stroke-width="0.1" font-weight="normal" font-style="normal" >60</text>
<line x1="48.70" y1="411.80" x2="51.20" y2="411.80" stroke="#222" stroke-width="0.8" />
<text x="44.80" y="415.30" font-size="8.4" text-anchor="end" fill="#222" stroke="#222" stroke-width="0.1" font-weight="normal" font-style="normal" >80</text>
<line x1="48.70" y1="391.80" x2="51.20" y2="391.80" stroke="#222" stroke-width="0.8" />
<text x="44.80" y="395.30" font-size="8.4" text-anchor="end" fill="#222" stroke="#222" stroke-width="0.1" font-weight="normal" font-style="normal" >100</text>
<line x1="69.00" y1="491.80" x2="69.00" y2="494.30" stroke="#222" stroke-width="0.8" />
<rect x="60.10" y="464.80" width="17.80" height="27.00" fill="#ef941c" />
<text x="69.00" y="481.30" font-size="8.1" text-anchor="middle" fill="#3a2e1e" stroke="#3a2e1e" stroke-width="0.1" font-weight="normal" font-style="normal" >27%</text>
<rect x="60.10" y="411.80" width="17.80" height="53.00" fill="#a9bf8c" />
<text x="69.00" y="441.30" font-size="8.1" text-anchor="middle" fill="#34462c" stroke="#34462c" stroke-width="0.1" font-weight="normal" font-style="normal" >53%</text>
<rect x="60.10" y="391.80" width="17.80" height="20.00" fill="#1b6b4a" />
<text x="69.00" y="404.80" font-size="8.1" text-anchor="middle" fill="#ffffff" stroke="#ffffff" stroke-width="0.1" font-weight="normal" font-style="normal" >20%</text>
<line x1="96.60" y1="491.80" x2="96.60" y2="494.30" stroke="#222" stroke-width="0.8" />
<rect x="87.70" y="477.80" width="17.80" height="14.00" fill="#ef941c" />
<text x="96.60" y="487.80" font-size="8.1" text-anchor="middle" fill="#3a2e1e" stroke="#3a2e1e" stroke-width="0.1" font-weight="normal" font-style="normal" >14%</text>
<rect x="87.70" y="448.80" width="17.80" height="29.00" fill="#a9bf8c" />
<text x="96.60" y="466.30" font-size="8.1" text-anchor="middle" fill="#34462c" stroke="#34462c" stroke-width="0.1" font-weight="normal" font-style="normal" >29%</text>
<rect x="87.70" y="391.80" width="17.80" height="57.00" fill="#1b6b4a" />
<text x="96.60" y="423.30" font-size="8.1" text-anchor="middle" fill="#ffffff" stroke="#ffffff" stroke-width="0.1" font-weight="normal" font-style="normal" >57%</text>
<line x1="124.90" y1="491.80" x2="124.90" y2="494.30" stroke="#222" stroke-width="0.8" />
<rect x="116.00" y="478.80" width="17.80" height="13.00" fill="#ef941c" />
<text x="124.90" y="488.30" font-size="8.1" text-anchor="middle" fill="#3a2e1e" stroke="#3a2e1e" stroke-width="0.1" font-weight="normal" font-style="normal" >13%</text>
<rect x="116.00" y="447.80" width="17.80" height="31.00" fill="#a9bf8c" />
<text x="124.90" y="466.30" font-size="8.1" text-anchor="middle" fill="#34462c" stroke="#34462c" stroke-width="0.1" font-weight="normal" font-style="normal" >31%</text>
<rect x="116.00" y="391.80" width="17.80" height="56.00" fill="#1b6b4a" />
<text x="124.90" y="422.80" font-size="8.1" text-anchor="middle" fill="#ffffff" stroke="#ffffff" stroke-width="0.1" font-weight="normal" font-style="normal" >56%</text>
<line x1="152.90" y1="491.80" x2="152.90" y2="494.30" stroke="#222" stroke-width="0.8" />
<rect x="144.00" y="458.80" width="17.80" height="33.00" fill="#a9bf8c" />
<text x="152.90" y="478.30" font-size="8.1" text-anchor="middle" fill="#34462c" stroke="#34462c" stroke-width="0.1" font-weight="normal" font-style="normal" >33%</text>
<rect x="144.00" y="391.80" width="17.80" height="67.00" fill="#1b6b4a" />
<text x="152.90" y="428.30" font-size="8.1" text-anchor="middle" fill="#ffffff" stroke="#ffffff" stroke-width="0.1" font-weight="normal" font-style="normal" >67%</text>
<line x1="180.80" y1="491.80" x2="180.80" y2="494.30" stroke="#222" stroke-width="0.8" />
<rect x="171.90" y="470.80" width="17.80" height="21.00" fill="#a9bf8c" />
<text x="180.80" y="484.30" font-size="8.1" text-anchor="middle" fill="#34462c" stroke="#34462c" stroke-width="0.1" font-weight="normal" font-style="normal" >21%</text>
<rect x="171.90" y="391.80" width="17.80" height="79.00" fill="#1b6b4a" />
<text x="180.80" y="434.30" font-size="8.1" text-anchor="middle" fill="#ffffff" stroke="#ffffff" stroke-width="0.1" font-weight="normal" font-style="normal" >79%</text>
<text x="69.00" y="505.00" font-size="7.6" text-anchor="middle" fill="#222" stroke="#222" stroke-width="0.1" font-weight="normal" font-style="normal" >STZ</text>
<text x="96.60" y="505.00" font-size="7.6" text-anchor="middle" fill="#222" stroke="#222" stroke-width="0.1" font-weight="normal" font-style="normal" >STZ-</text>
<text x="96.60" y="513.90" font-size="7.6" text-anchor="middle" fill="#222" stroke="#222" stroke-width="0.1" font-weight="normal" font-style="normal" >rtPA</text>
<text x="124.90" y="505.00" font-size="7.6" text-anchor="middle" fill="#222" stroke="#222" stroke-width="0.1" font-weight="normal" font-style="normal" >STZ-</text>
<text x="124.90" y="513.90" font-size="7.6" text-anchor="middle" fill="#222" stroke="#222" stroke-width="0.1" font-weight="normal" font-style="normal" >Gluno</text>
<text x="152.90" y="505.00" font-size="7.6" text-anchor="middle" fill="#222" stroke="#222" stroke-width="0.1" font-weight="normal" font-style="normal" >STZ-</text>
<text x="152.90" y="513.90" font-size="7.6" text-anchor="middle" fill="#222" stroke="#222" stroke-width="0.1" font-weight="normal" font-style="normal" >Gluno-</text>
<text x="152.90" y="522.80" font-size="7.6" text-anchor="middle" fill="#222" stroke="#222" stroke-width="0.1" font-weight="normal" font-style="normal" >rtPA</text>
<text x="180.80" y="505.00" font-size="7.6" text-anchor="middle" fill="#222" stroke="#222" stroke-width="0.1" font-weight="normal" font-style="normal" >NAC-</text>
<text x="180.80" y="513.90" font-size="7.6" text-anchor="middle" fill="#222" stroke="#222" stroke-width="0.1" font-weight="normal" font-style="normal" >Gluno</text>
<text transform="translate(25.6,440.4) rotate(-90)" font-size="8.2" text-anchor="middle" fill="#222" stroke="#222" stroke-width="0.1" textLength="37.5" lengthAdjust="spacingAndGlyphs">% of animals</text>
<line x1="69.80" y1="372.30" x2="181.00" y2="372.30" stroke="#333" stroke-width="0.8" />
<text x="124.00" y="371.80" font-size="6.2" text-anchor="middle" fill="#333" stroke="#333" stroke-width="0.1" font-weight="normal" font-style="normal" >**</text>
<line x1="69.80" y1="386.00" x2="153.00" y2="386.00" stroke="#333" stroke-width="0.8" />
<text x="111.50" y="385.50" font-size="6.2" text-anchor="middle" fill="#333" stroke="#333" stroke-width="0.1" font-weight="normal" font-style="normal" >*</text>
<rect x="197.30" y="426.50" width="5.80" height="5.80" fill="#1b6b4a" />
<text x="206.30" y="432.00" font-size="7.1" text-anchor="start" fill="#222" stroke="#222" stroke-width="0.1" font-weight="normal" font-style="normal" >Complete Rec</text>
<rect x="197.30" y="437.50" width="5.80" height="5.80" fill="#a9bf8c" />
<text x="206.30" y="443.00" font-size="7.1" text-anchor="start" fill="#222" stroke="#222" stroke-width="0.1" font-weight="normal" font-style="normal" >Partial Rec</text>
<rect x="197.30" y="448.50" width="5.80" height="5.80" fill="#ef941c" />
<text x="206.30" y="454.00" font-size="7.1" text-anchor="start" fill="#222" stroke="#222" stroke-width="0.1" font-weight="normal" font-style="normal" >No Rec</text>
<text x="266.00" y="377.70" font-size="11.2" text-anchor="start" fill="#111" stroke="#111" stroke-width="0.1" font-weight="bold" font-style="normal" >E</text>
<line x1="309.50" y1="389.00" x2="309.50" y2="492.00" stroke="#222" stroke-width="0.9" />
<line x1="309.50" y1="492.00" x2="454.50" y2="492.00" stroke="#222" stroke-width="0.9" />
<line x1="307.00" y1="492.00" x2="309.50" y2="492.00" stroke="#222" stroke-width="0.8" />
<text x="303.70" y="494.70" font-size="8.4" text-anchor="end" fill="#222" stroke="#222" stroke-width="0.1" font-weight="normal" font-style="normal" >0</text>
<line x1="307.00" y1="472.00" x2="309.50" y2="472.00" stroke="#222" stroke-width="0.8" />
<text x="303.70" y="474.70" font-size="8.4" text-anchor="end" fill="#222" stroke="#222" stroke-width="0.1" font-weight="normal" font-style="normal" >20</text>
<line x1="307.00" y1="452.00" x2="309.50" y2="452.00" stroke="#222" stroke-width="0.8" />
<text x="303.70" y="454.70" font-size="8.4" text-anchor="end" fill="#222" stroke="#222" stroke-width="0.1" font-weight="normal" font-style="normal" >40</text>
<line x1="307.00" y1="432.00" x2="309.50" y2="432.00" stroke="#222" stroke-width="0.8" />
<text x="303.70" y="434.70" font-size="8.4" text-anchor="end" fill="#222" stroke="#222" stroke-width="0.1" font-weight="normal" font-style="normal" >60</text>
<line x1="307.00" y1="412.00" x2="309.50" y2="412.00" stroke="#222" stroke-width="0.8" />
<text x="303.70" y="414.70" font-size="8.4" text-anchor="end" fill="#222" stroke="#222" stroke-width="0.1" font-weight="normal" font-style="normal" >80</text>
<line x1="307.00" y1="392.00" x2="309.50" y2="392.00" stroke="#222" stroke-width="0.8" />
<text x="303.70" y="394.70" font-size="8.4" text-anchor="end" fill="#222" stroke="#222" stroke-width="0.1" font-weight="normal" font-style="normal" >100</text>
<line x1="327.00" y1="492.00" x2="327.00" y2="494.50" stroke="#222" stroke-width="0.8" />
<rect x="318.10" y="461.00" width="17.80" height="31.00" fill="#3f4b5f" />
<rect x="318.10" y="392.00" width="17.80" height="69.00" fill="#8f7abb" />
<text x="327.00" y="479.50" font-size="8.1" text-anchor="middle" fill="#f4f4f4" stroke="#f4f4f4" stroke-width="0.1" font-weight="normal" font-style="normal" >31%</text>
<text x="327.00" y="429.50" font-size="8.1" text-anchor="middle" fill="#f4f4f4" stroke="#f4f4f4" stroke-width="0.1" font-weight="normal" font-style="normal" >69%</text>
<line x1="354.40" y1="492.00" x2="354.40" y2="494.50" stroke="#222" stroke-width="0.8" />
<rect x="345.50" y="412.00" width="17.80" height="80.00" fill="#3f4b5f" />
<rect x="345.50" y="392.00" width="17.80" height="20.00" fill="#8f7abb" />
<text x="354.40" y="455.00" font-size="8.1" text-anchor="middle" fill="#f4f4f4" stroke="#f4f4f4" stroke-width="0.1" font-weight="normal" font-style="normal" >80%</text>
<text x="354.40" y="405.00" font-size="8.1" text-anchor="middle" fill="#f4f4f4" stroke="#f4f4f4" stroke-width="0.1" font-weight="normal" font-style="normal" >20%</text>
<line x1="381.40" y1="492.00" x2="381.40" y2="494.50" stroke="#222" stroke-width="0.8" />
<rect x="372.50" y="459.00" width="17.80" height="33.00" fill="#3f4b5f" />
<rect x="372.50" y="392.00" width="17.80" height="67.00" fill="#8f7abb" />
<text x="381.40" y="478.50" font-size="8.1" text-anchor="middle" fill="#f4f4f4" stroke="#f4f4f4" stroke-width="0.1" font-weight="normal" font-style="normal" >33%</text>
<text x="381.40" y="428.50" font-size="8.1" text-anchor="middle" fill="#f4f4f4" stroke="#f4f4f4" stroke-width="0.1" font-weight="normal" font-style="normal" >67%</text>
<line x1="408.60" y1="492.00" x2="408.60" y2="494.50" stroke="#222" stroke-width="0.8" />
<rect x="399.70" y="461.00" width="17.80" height="31.00" fill="#3f4b5f" />
<rect x="399.70" y="392.00" width="17.80" height="69.00" fill="#8f7abb" />
<text x="408.60" y="479.50" font-size="8.1" text-anchor="middle" fill="#f4f4f4" stroke="#f4f4f4" stroke-width="0.1" font-weight="normal" font-style="normal" >31%</text>
<text x="408.60" y="429.50" font-size="8.1" text-anchor="middle" fill="#f4f4f4" stroke="#f4f4f4" stroke-width="0.1" font-weight="normal" font-style="normal" >69%</text>
<line x1="435.60" y1="492.00" x2="435.60" y2="494.50" stroke="#222" stroke-width="0.8" />
<rect x="426.70" y="452.00" width="17.80" height="40.00" fill="#3f4b5f" />
<rect x="426.70" y="392.00" width="17.80" height="60.00" fill="#8f7abb" />
<text x="435.60" y="475.00" font-size="8.1" text-anchor="middle" fill="#f4f4f4" stroke="#f4f4f4" stroke-width="0.1" font-weight="normal" font-style="normal" >40%</text>
<text x="435.60" y="425.00" font-size="8.1" text-anchor="middle" fill="#f4f4f4" stroke="#f4f4f4" stroke-width="0.1" font-weight="normal" font-style="normal" >60%</text>
<text x="327.00" y="505.00" font-size="7.6" text-anchor="middle" fill="#222" stroke="#222" stroke-width="0.1" font-weight="normal" font-style="normal" >STZ</text>
<text x="354.40" y="505.00" font-size="7.6" text-anchor="middle" fill="#222" stroke="#222" stroke-width="0.1" font-weight="normal" font-style="normal" >STZ-</text>
<text x="354.40" y="513.90" font-size="7.6" text-anchor="middle" fill="#222" stroke="#222" stroke-width="0.1" font-weight="normal" font-style="normal" >rtPA</text>
<text x="381.40" y="505.00" font-size="7.6" text-anchor="middle" fill="#222" stroke="#222" stroke-width="0.1" font-weight="normal" font-style="normal" >STZ-</text>
<text x="381.40" y="513.90" font-size="7.6" text-anchor="middle" fill="#222" stroke="#222" stroke-width="0.1" font-weight="normal" font-style="normal" >Gluno</text>
<text x="408.60" y="505.00" font-size="7.6" text-anchor="middle" fill="#222" stroke="#222" stroke-width="0.1" font-weight="normal" font-style="normal" >STZ-</text>
<text x="408.60" y="513.90" font-size="7.6" text-anchor="middle" fill="#222" stroke="#222" stroke-width="0.1" font-weight="normal" font-style="normal" >Gluno-</text>
<text x="408.60" y="522.80" font-size="7.6" text-anchor="middle" fill="#222" stroke="#222" stroke-width="0.1" font-weight="normal" font-style="normal" >rtPA</text>
<text x="435.60" y="505.00" font-size="7.6" text-anchor="middle" fill="#222" stroke="#222" stroke-width="0.1" font-weight="normal" font-style="normal" >STZ-</text>
<text x="435.60" y="513.90" font-size="7.6" text-anchor="middle" fill="#222" stroke="#222" stroke-width="0.1" font-weight="normal" font-style="normal" >NAC-</text>
<text x="435.60" y="522.80" font-size="7.6" text-anchor="middle" fill="#222" stroke="#222" stroke-width="0.1" font-weight="normal" font-style="normal" >Gluno</text>
<text transform="translate(285.2,440.6) rotate(-90)" font-size="8.2" text-anchor="middle" fill="#222" stroke="#222" stroke-width="0.1" textLength="37.5" lengthAdjust="spacingAndGlyphs">% of animals</text>
<line x1="353.70" y1="364.50" x2="409.40" y2="364.50" stroke="#333" stroke-width="0.8" />
<text x="381.90" y="362.90" font-size="6.2" text-anchor="middle" fill="#333" stroke="#333" stroke-width="0.1" font-weight="normal" font-style="normal" >*</text>
<line x1="353.70" y1="373.50" x2="381.20" y2="373.50" stroke="#333" stroke-width="0.8" />
<text x="367.70" y="372.90" font-size="6.2" text-anchor="middle" fill="#333" stroke="#333" stroke-width="0.1" font-weight="normal" font-style="normal" >*</text>
<line x1="325.80" y1="384.30" x2="353.10" y2="384.30" stroke="#333" stroke-width="0.8" />
<text x="339.60" y="383.70" font-size="6.2" text-anchor="middle" fill="#333" stroke="#333" stroke-width="0.1" font-weight="normal" font-style="normal" >*</text>
<line x1="357.90" y1="384.30" x2="438.80" y2="384.30" stroke="#333" stroke-width="0.8" />
<text x="398.40" y="380.30" font-size="7.8" text-anchor="middle" fill="#333" stroke="#333" stroke-width="0.1" font-weight="normal" font-style="normal" >0.06</text>
<rect x="457.00" y="431.60" width="5.80" height="5.80" fill="#8f7abb" />
<text x="464.50" y="437.10" font-size="7.1" text-anchor="start" fill="#222" stroke="#222" stroke-width="0.1" font-weight="normal" font-style="normal" >No hemorrhage</text>
<rect x="457.00" y="443.10" width="5.80" height="5.80" fill="#3f4b5f" />
<text x="464.50" y="448.60" font-size="7.1" text-anchor="start" fill="#222" stroke="#222" stroke-width="0.1" font-weight="normal" font-style="normal" >Hemorrhage</text>
<text x="6.40" y="548.50" font-size="11.2" text-anchor="start" fill="#111" stroke="#111" stroke-width="0.1" font-weight="bold" font-style="normal" >F</text>
<line x1="51.25" y1="566.58" x2="51.25" y2="666.75" stroke="#222" stroke-width="0.9" />
<line x1="51.25" y1="666.75" x2="199.50" y2="666.75" stroke="#222" stroke-width="0.9" />
<line x1="48.75" y1="666.75" x2="51.25" y2="666.75" stroke="#222" stroke-width="0.8" />
<text x="45.45" y="670.05" font-size="8.4" text-anchor="end" fill="#222" stroke="#222" stroke-width="0.1" font-weight="normal" font-style="normal" >0.7</text>
<line x1="48.75" y1="642.90" x2="51.25" y2="642.90" stroke="#222" stroke-width="0.8" />
<text x="45.45" y="646.20" font-size="8.4" text-anchor="end" fill="#222" stroke="#222" stroke-width="0.1" font-weight="normal" font-style="normal" >0.8</text>
<line x1="48.75" y1="619.05" x2="51.25" y2="619.05" stroke="#222" stroke-width="0.8" />
<text x="45.45" y="622.35" font-size="8.4" text-anchor="end" fill="#222" stroke="#222" stroke-width="0.1" font-weight="normal" font-style="normal" >0.9</text>
<line x1="48.75" y1="595.20" x2="51.25" y2="595.20" stroke="#222" stroke-width="0.8" />
<text x="45.45" y="598.50" font-size="8.4" text-anchor="end" fill="#222" stroke="#222" stroke-width="0.1" font-weight="normal" font-style="normal" >1.0</text>
<line x1="48.75" y1="571.35" x2="51.25" y2="571.35" stroke="#222" stroke-width="0.8" />
<text x="45.45" y="574.65" font-size="8.4" text-anchor="end" fill="#222" stroke="#222" stroke-width="0.1" font-weight="normal" font-style="normal" >1.1</text>
<rect x="52.50" y="594.48" width="5.00" height="72.27" fill="#a3d18f" />
<circle cx="55.45" cy="596.62" r="0.70" fill="#4aa040" />
<circle cx="53.72" cy="590.22" r="0.70" fill="#4aa040" />
<circle cx="53.67" cy="602.25" r="0.70" fill="#4aa040" />
<circle cx="55.02" cy="596.27" r="0.70" fill="#4aa040" />
<circle cx="53.71" cy="585.83" r="0.70" fill="#4aa040" />
<circle cx="53.77" cy="592.41" r="0.70" fill="#4aa040" />
<circle cx="53.87" cy="608.39" r="0.70" fill="#4aa040" />
<circle cx="54.17" cy="587.35" r="0.70" fill="#4aa040" />
<circle cx="55.23" cy="608.60" r="0.70" fill="#4aa040" />
<line x1="55.00" y1="591.48" x2="55.00" y2="597.48" stroke="#333" stroke-width="0.6" />
<line x1="53.50" y1="591.48" x2="56.50" y2="591.48" stroke="#333" stroke-width="0.6" />
<rect x="58.90" y="593.77" width="5.00" height="72.98" fill="#9a79b6" />
<circle cx="61.09" cy="608.33" r="0.70" fill="#4a2470" />
<circle cx="62.48" cy="591.22" r="0.70" fill="#4a2470" />
<circle cx="60.77" cy="594.15" r="0.70" fill="#4a2470" />
<circle cx="60.83" cy="591.19" r="0.70" fill="#4a2470" />
<circle cx="62.35" cy="590.48" r="0.70" fill="#4a2470" />
<circle cx="61.82" cy="589.12" r="0.70" fill="#4a2470" />
<circle cx="61.02" cy="583.78" r="0.70" fill="#4a2470" />
<circle cx="60.08" cy="596.64" r="0.70" fill="#4a2470" />
<circle cx="60.52" cy="594.66" r="0.70" fill="#4a2470" />
<line x1="61.40" y1="590.77" x2="61.40" y2="596.77" stroke="#333" stroke-width="0.6" />
<line x1="59.90" y1="590.77" x2="62.90" y2="590.77" stroke="#333" stroke-width="0.6" />
<rect x="65.30" y="595.68" width="5.00" height="71.07" fill="#a0805e" />
<circle cx="67.24" cy="599.41" r="0.70" fill="#5a3a1e" />
<circle cx="68.06" cy="603.66" r="0.70" fill="#5a3a1e" />
<circle cx="68.68" cy="602.42" r="0.70" fill="#5a3a1e" />
<circle cx="68.40" cy="593.63" r="0.70" fill="#5a3a1e" />
<circle cx="67.88" cy="595.27" r="0.70" fill="#5a3a1e" />
<circle cx="68.93" cy="584.77" r="0.70" fill="#5a3a1e" />
<circle cx="69.24" cy="596.56" r="0.70" fill="#5a3a1e" />
<circle cx="66.65" cy="602.50" r="0.70" fill="#5a3a1e" />
<circle cx="66.76" cy="607.90" r="0.70" fill="#5a3a1e" />
<line x1="67.80" y1="592.68" x2="67.80" y2="598.68" stroke="#333" stroke-width="0.6" />
<line x1="66.30" y1="592.68" x2="69.30" y2="592.68" stroke="#333" stroke-width="0.6" />
<rect x="71.70" y="594.25" width="5.00" height="72.50" fill="#f28fc0" />
<circle cx="74.17" cy="587.34" r="0.70" fill="#d01878" />
<circle cx="74.99" cy="582.22" r="0.70" fill="#d01878" />
<circle cx="74.42" cy="591.22" r="0.70" fill="#d01878" />
<circle cx="74.79" cy="589.11" r="0.70" fill="#d01878" />
<circle cx="74.48" cy="599.35" r="0.70" fill="#d01878" />
<circle cx="75.22" cy="602.32" r="0.70" fill="#d01878" />
<circle cx="75.53" cy="598.68" r="0.70" fill="#d01878" />
<circle cx="72.88" cy="606.41" r="0.70" fill="#d01878" />
<circle cx="74.80" cy="592.25" r="0.70" fill="#d01878" />
<line x1="74.20" y1="591.25" x2="74.20" y2="597.25" stroke="#333" stroke-width="0.6" />
<line x1="72.70" y1="591.25" x2="75.70" y2="591.25" stroke="#333" stroke-width="0.6" />
<rect x="78.10" y="595.92" width="5.00" height="70.83" fill="#fcd98a" />
<circle cx="81.57" cy="611.78" r="0.70" fill="#f0b830" />
<circle cx="79.95" cy="616.94" r="0.70" fill="#f0b830" />
<circle cx="79.17" cy="605.26" r="0.70" fill="#f0b830" />
<circle cx="80.49" cy="587.76" r="0.70" fill="#f0b830" />
<circle cx="79.28" cy="593.86" r="0.70" fill="#f0b830" />
<circle cx="81.40" cy="592.29" r="0.70" fill="#f0b830" />
<circle cx="80.27" cy="591.59" r="0.70" fill="#f0b830" />
<circle cx="81.71" cy="591.34" r="0.70" fill="#f0b830" />
<circle cx="80.75" cy="587.94" r="0.70" fill="#f0b830" />
<line x1="80.60" y1="592.92" x2="80.60" y2="598.92" stroke="#333" stroke-width="0.6" />
<line x1="79.10" y1="592.92" x2="82.10" y2="592.92" stroke="#333" stroke-width="0.6" />
<line x1="67.80" y1="666.75" x2="67.80" y2="669.25" stroke="#222" stroke-width="0.8" />
<rect x="91.30" y="623.58" width="5.00" height="43.17" fill="#a3d18f" />
<circle cx="94.95" cy="619.16" r="0.70" fill="#4aa040" />
<circle cx="93.14" cy="616.55" r="0.70" fill="#4aa040" />
<circle cx="93.55" cy="638.70" r="0.70" fill="#4aa040" />
<circle cx="95.17" cy="634.53" r="0.70" fill="#4aa040" />
<circle cx="92.75" cy="610.14" r="0.70" fill="#4aa040" />
<circle cx="93.00" cy="620.87" r="0.70" fill="#4aa040" />
<circle cx="93.75" cy="618.16" r="0.70" fill="#4aa040" />
<circle cx="92.31" cy="629.10" r="0.70" fill="#4aa040" />
<circle cx="93.56" cy="627.04" r="0.70" fill="#4aa040" />
<line x1="93.80" y1="620.58" x2="93.80" y2="626.58" stroke="#333" stroke-width="0.6" />
<line x1="92.30" y1="620.58" x2="95.30" y2="620.58" stroke="#333" stroke-width="0.6" />
<rect x="97.70" y="629.31" width="5.00" height="37.44" fill="#9a79b6" />
<circle cx="101.56" cy="636.66" r="0.70" fill="#4a2470" />
<circle cx="100.77" cy="621.40" r="0.70" fill="#4a2470" />
<circle cx="100.73" cy="640.82" r="0.70" fill="#4a2470" />
<circle cx="98.86" cy="630.43" r="0.70" fill="#4a2470" />
<circle cx="101.32" cy="617.58" r="0.70" fill="#4a2470" />
<circle cx="101.09" cy="637.88" r="0.70" fill="#4a2470" />
<circle cx="99.01" cy="635.88" r="0.70" fill="#4a2470" />
<circle cx="100.60" cy="624.03" r="0.70" fill="#4a2470" />
<circle cx="99.33" cy="626.42" r="0.70" fill="#4a2470" />
<line x1="100.20" y1="626.31" x2="100.20" y2="632.31" stroke="#333" stroke-width="0.6" />
<line x1="98.70" y1="626.31" x2="101.70" y2="626.31" stroke="#333" stroke-width="0.6" />
<rect x="104.10" y="619.77" width="5.00" height="46.98" fill="#a0805e" />
<circle cx="105.59" cy="618.58" r="0.70" fill="#5a3a1e" />
<circle cx="105.10" cy="621.24" r="0.70" fill="#5a3a1e" />
<circle cx="105.55" cy="617.45" r="0.70" fill="#5a3a1e" />
<circle cx="105.18" cy="613.39" r="0.70" fill="#5a3a1e" />
<circle cx="107.72" cy="615.04" r="0.70" fill="#5a3a1e" />
<circle cx="105.86" cy="623.33" r="0.70" fill="#5a3a1e" />
<circle cx="106.14" cy="622.88" r="0.70" fill="#5a3a1e" />
<circle cx="107.65" cy="622.57" r="0.70" fill="#5a3a1e" />
<circle cx="108.08" cy="616.54" r="0.70" fill="#5a3a1e" />
<line x1="106.60" y1="616.77" x2="106.60" y2="622.77" stroke="#333" stroke-width="0.6" />
<line x1="105.10" y1="616.77" x2="108.10" y2="616.77" stroke="#333" stroke-width="0.6" />
<rect x="110.50" y="617.38" width="5.00" height="49.37" fill="#f28fc0" />
<circle cx="111.76" cy="626.76" r="0.70" fill="#d01878" />
<circle cx="111.81" cy="615.34" r="0.70" fill="#d01878" />
<circle cx="113.99" cy="620.98" r="0.70" fill="#d01878" />
<circle cx="111.98" cy="611.91" r="0.70" fill="#d01878" />
<circle cx="113.08" cy="597.10" r="0.70" fill="#d01878" />
<circle cx="111.94" cy="614.42" r="0.70" fill="#d01878" />
<circle cx="113.08" cy="619.26" r="0.70" fill="#d01878" />
<circle cx="114.44" cy="617.90" r="0.70" fill="#d01878" />
<circle cx="112.28" cy="608.96" r="0.70" fill="#d01878" />
<line x1="113.00" y1="614.38" x2="113.00" y2="620.38" stroke="#333" stroke-width="0.6" />
<line x1="111.50" y1="614.38" x2="114.50" y2="614.38" stroke="#333" stroke-width="0.6" />
<rect x="116.90" y="614.04" width="5.00" height="52.71" fill="#fcd98a" />
<circle cx="119.00" cy="623.80" r="0.70" fill="#f0b830" />
<circle cx="119.50" cy="606.89" r="0.70" fill="#f0b830" />
<circle cx="120.24" cy="601.59" r="0.70" fill="#f0b830" />
<circle cx="120.33" cy="616.89" r="0.70" fill="#f0b830" />
<circle cx="120.85" cy="608.84" r="0.70" fill="#f0b830" />
<circle cx="120.35" cy="604.95" r="0.70" fill="#f0b830" />
<circle cx="120.12" cy="626.12" r="0.70" fill="#f0b830" />
<circle cx="118.97" cy="612.57" r="0.70" fill="#f0b830" />
<circle cx="117.99" cy="604.07" r="0.70" fill="#f0b830" />
<line x1="119.40" y1="611.04" x2="119.40" y2="617.04" stroke="#333" stroke-width="0.6" />
<line x1="117.90" y1="611.04" x2="120.90" y2="611.04" stroke="#333" stroke-width="0.6" />
<line x1="106.60" y1="666.75" x2="106.60" y2="669.25" stroke="#222" stroke-width="0.8" />
<rect x="129.70" y="622.15" width="5.00" height="44.60" fill="#a3d18f" />
<circle cx="131.48" cy="615.50" r="0.70" fill="#4aa040" />
<circle cx="132.78" cy="620.97" r="0.70" fill="#4aa040" />
<circle cx="133.51" cy="613.40" r="0.70" fill="#4aa040" />
<circle cx="133.66" cy="624.60" r="0.70" fill="#4aa040" />
<circle cx="131.36" cy="614.52" r="0.70" fill="#4aa040" />
<circle cx="131.38" cy="624.37" r="0.70" fill="#4aa040" />
<circle cx="132.57" cy="620.30" r="0.70" fill="#4aa040" />
<circle cx="133.40" cy="616.82" r="0.70" fill="#4aa040" />
<circle cx="132.66" cy="617.02" r="0.70" fill="#4aa040" />
<line x1="132.20" y1="619.15" x2="132.20" y2="625.15" stroke="#333" stroke-width="0.6" />
<line x1="130.70" y1="619.15" x2="133.70" y2="619.15" stroke="#333" stroke-width="0.6" />
<rect x="136.10" y="623.34" width="5.00" height="43.41" fill="#9a79b6" />
<circle cx="139.50" cy="631.38" r="0.70" fill="#4a2470" />
<circle cx="139.83" cy="612.77" r="0.70" fill="#4a2470" />
<circle cx="139.45" cy="617.11" r="0.70" fill="#4a2470" />
<circle cx="137.64" cy="623.33" r="0.70" fill="#4a2470" />
<circle cx="139.47" cy="632.86" r="0.70" fill="#4a2470" />
<circle cx="140.01" cy="630.77" r="0.70" fill="#4a2470" />
<circle cx="138.29" cy="610.32" r="0.70" fill="#4a2470" />
<circle cx="139.27" cy="639.80" r="0.70" fill="#4a2470" />
<circle cx="137.61" cy="611.60" r="0.70" fill="#4a2470" />
<line x1="138.60" y1="620.34" x2="138.60" y2="626.34" stroke="#333" stroke-width="0.6" />
<line x1="137.10" y1="620.34" x2="140.10" y2="620.34" stroke="#333" stroke-width="0.6" />
<rect x="142.50" y="613.80" width="5.00" height="52.95" fill="#a0805e" />
<circle cx="146.21" cy="610.47" r="0.70" fill="#5a3a1e" />
<circle cx="145.92" cy="610.38" r="0.70" fill="#5a3a1e" />
<circle cx="146.44" cy="604.32" r="0.70" fill="#5a3a1e" />
<circle cx="145.47" cy="601.39" r="0.70" fill="#5a3a1e" />
<circle cx="143.89" cy="620.01" r="0.70" fill="#5a3a1e" />
<circle cx="143.54" cy="605.30" r="0.70" fill="#5a3a1e" />
<circle cx="145.08" cy="601.91" r="0.70" fill="#5a3a1e" />
<circle cx="146.30" cy="616.00" r="0.70" fill="#5a3a1e" />
<circle cx="145.98" cy="629.28" r="0.70" fill="#5a3a1e" />
<line x1="145.00" y1="610.80" x2="145.00" y2="616.80" stroke="#333" stroke-width="0.6" />
<line x1="143.50" y1="610.80" x2="146.50" y2="610.80" stroke="#333" stroke-width="0.6" />
<rect x="148.90" y="609.51" width="5.00" height="57.24" fill="#f28fc0" />
<circle cx="150.53" cy="602.68" r="0.70" fill="#d01878" />
<circle cx="150.62" cy="609.59" r="0.70" fill="#d01878" />
<circle cx="151.66" cy="602.56" r="0.70" fill="#d01878" />
<circle cx="150.29" cy="610.02" r="0.70" fill="#d01878" />
<circle cx="152.63" cy="600.83" r="0.70" fill="#d01878" />
<circle cx="151.65" cy="615.12" r="0.70" fill="#d01878" />
<circle cx="152.61" cy="602.16" r="0.70" fill="#d01878" />
<circle cx="151.40" cy="625.89" r="0.70" fill="#d01878" />
<circle cx="151.50" cy="600.59" r="0.70" fill="#d01878" />
<line x1="151.40" y1="606.51" x2="151.40" y2="612.51" stroke="#333" stroke-width="0.6" />
<line x1="149.90" y1="606.51" x2="152.90" y2="606.51" stroke="#333" stroke-width="0.6" />
<rect x="155.30" y="604.74" width="5.00" height="62.01" fill="#fcd98a" />
<circle cx="157.62" cy="606.34" r="0.70" fill="#f0b830" />
<circle cx="156.85" cy="604.98" r="0.70" fill="#f0b830" />
<circle cx="156.82" cy="589.79" r="0.70" fill="#f0b830" />
<circle cx="157.72" cy="604.37" r="0.70" fill="#f0b830" />
<circle cx="157.28" cy="606.39" r="0.70" fill="#f0b830" />
<circle cx="157.86" cy="615.26" r="0.70" fill="#f0b830" />
<circle cx="156.62" cy="618.48" r="0.70" fill="#f0b830" />
<circle cx="157.98" cy="609.73" r="0.70" fill="#f0b830" />
<circle cx="158.62" cy="604.68" r="0.70" fill="#f0b830" />
<line x1="157.80" y1="601.74" x2="157.80" y2="607.74" stroke="#333" stroke-width="0.6" />
<line x1="156.30" y1="601.74" x2="159.30" y2="601.74" stroke="#333" stroke-width="0.6" />
<line x1="145.00" y1="666.75" x2="145.00" y2="669.25" stroke="#222" stroke-width="0.8" />
<rect x="168.40" y="610.70" width="5.00" height="56.05" fill="#a3d18f" />
<circle cx="170.92" cy="603.98" r="0.70" fill="#4aa040" />
<circle cx="172.14" cy="623.76" r="0.70" fill="#4aa040" />
<circle cx="170.73" cy="616.04" r="0.70" fill="#4aa040" />
<circle cx="170.94" cy="618.23" r="0.70" fill="#4aa040" />
<circle cx="171.48" cy="617.14" r="0.70" fill="#4aa040" />
<circle cx="170.83" cy="620.55" r="0.70" fill="#4aa040" />
<circle cx="172.22" cy="607.66" r="0.70" fill="#4aa040" />
<circle cx="172.23" cy="616.06" r="0.70" fill="#4aa040" />
<circle cx="170.18" cy="626.91" r="0.70" fill="#4aa040" />
<line x1="170.90" y1="607.70" x2="170.90" y2="613.70" stroke="#333" stroke-width="0.6" />
<line x1="169.40" y1="607.70" x2="172.40" y2="607.70" stroke="#333" stroke-width="0.6" />
<rect x="174.80" y="613.09" width="5.00" height="53.66" fill="#9a79b6" />
<circle cx="178.32" cy="631.70" r="0.70" fill="#4a2470" />
<circle cx="176.21" cy="620.39" r="0.70" fill="#4a2470" />
<circle cx="176.02" cy="606.58" r="0.70" fill="#4a2470" />
<circle cx="176.52" cy="606.85" r="0.70" fill="#4a2470" />
<circle cx="178.15" cy="601.95" r="0.70" fill="#4a2470" />
<circle cx="178.49" cy="607.58" r="0.70" fill="#4a2470" />
<circle cx="177.78" cy="605.60" r="0.70" fill="#4a2470" />
<circle cx="176.23" cy="602.16" r="0.70" fill="#4a2470" />
<circle cx="176.46" cy="596.89" r="0.70" fill="#4a2470" />
<line x1="177.30" y1="610.09" x2="177.30" y2="616.09" stroke="#333" stroke-width="0.6" />
<line x1="175.80" y1="610.09" x2="178.80" y2="610.09" stroke="#333" stroke-width="0.6" />
<rect x="181.20" y="605.93" width="5.00" height="60.82" fill="#a0805e" />
<circle cx="185.06" cy="620.61" r="0.70" fill="#5a3a1e" />
<circle cx="185.17" cy="613.68" r="0.70" fill="#5a3a1e" />
<circle cx="184.70" cy="600.18" r="0.70" fill="#5a3a1e" />
<circle cx="183.75" cy="601.25" r="0.70" fill="#5a3a1e" />
<circle cx="183.22" cy="598.40" r="0.70" fill="#5a3a1e" />
<circle cx="184.37" cy="603.49" r="0.70" fill="#5a3a1e" />
<circle cx="182.26" cy="599.04" r="0.70" fill="#5a3a1e" />
<circle cx="182.25" cy="614.41" r="0.70" fill="#5a3a1e" />
<circle cx="183.19" cy="608.93" r="0.70" fill="#5a3a1e" />
<line x1="183.70" y1="602.93" x2="183.70" y2="608.93" stroke="#333" stroke-width="0.6" />
<line x1="182.20" y1="602.93" x2="185.20" y2="602.93" stroke="#333" stroke-width="0.6" />
<rect x="187.60" y="604.26" width="5.00" height="62.49" fill="#f28fc0" />
<circle cx="188.79" cy="611.38" r="0.70" fill="#d01878" />
<circle cx="191.56" cy="611.29" r="0.70" fill="#d01878" />
<circle cx="188.91" cy="598.94" r="0.70" fill="#d01878" />
<circle cx="189.40" cy="625.91" r="0.70" fill="#d01878" />
<circle cx="189.41" cy="590.21" r="0.70" fill="#d01878" />
<circle cx="188.99" cy="600.69" r="0.70" fill="#d01878" />
<circle cx="191.06" cy="620.49" r="0.70" fill="#d01878" />
<circle cx="189.38" cy="595.64" r="0.70" fill="#d01878" />
<circle cx="190.31" cy="593.20" r="0.70" fill="#d01878" />
<line x1="190.10" y1="601.26" x2="190.10" y2="607.26" stroke="#333" stroke-width="0.6" />
<line x1="188.60" y1="601.26" x2="191.60" y2="601.26" stroke="#333" stroke-width="0.6" />
<rect x="194.00" y="599.02" width="5.00" height="67.73" fill="#fcd98a" />
<circle cx="197.10" cy="583.91" r="0.70" fill="#f0b830" />
<circle cx="197.06" cy="596.58" r="0.70" fill="#f0b830" />
<circle cx="196.28" cy="597.48" r="0.70" fill="#f0b830" />
<circle cx="196.90" cy="581.32" r="0.70" fill="#f0b830" />
<circle cx="197.40" cy="590.36" r="0.70" fill="#f0b830" />
<circle cx="195.20" cy="584.80" r="0.70" fill="#f0b830" />
<circle cx="197.59" cy="590.76" r="0.70" fill="#f0b830" />
<circle cx="196.66" cy="606.30" r="0.70" fill="#f0b830" />
<circle cx="197.78" cy="596.84" r="0.70" fill="#f0b830" />
<line x1="196.50" y1="596.02" x2="196.50" y2="602.02" stroke="#333" stroke-width="0.6" />
<line x1="195.00" y1="596.02" x2="198.00" y2="596.02" stroke="#333" stroke-width="0.6" />
<line x1="183.70" y1="666.75" x2="183.70" y2="669.25" stroke="#222" stroke-width="0.8" />
<text x="67.20" y="678.30" font-size="7.7" text-anchor="middle" fill="#222" stroke="#222" stroke-width="0.1" font-weight="normal" font-style="normal" >Basal</text>
<text x="105.60" y="678.30" font-size="7.7" text-anchor="middle" fill="#222" stroke="#222" stroke-width="0.1" font-weight="normal" font-style="normal" >D1</text>
<text x="145.00" y="678.30" font-size="7.7" text-anchor="middle" fill="#222" stroke="#222" stroke-width="0.1" font-weight="normal" font-style="normal" >D3</text>
<text x="183.20" y="679.80" font-size="7.7" text-anchor="middle" fill="#222" stroke="#222" stroke-width="0.1" font-weight="normal" font-style="normal" >D7</text>
<text transform="translate(27,617.5) rotate(-90)" font-size="8" text-anchor="middle" fill="#222" stroke="#222" stroke-width="0.1" textLength="76" lengthAdjust="spacingAndGlyphs">Strength (left/right paw)</text>
<path d="M93,578.8 L93,553.8 L120.5,553.8 L120.5,578.8" fill="none" stroke="#444" stroke-width="0.8" />
<text x="106.50" y="553.10" font-size="6.2" text-anchor="middle" fill="#333" stroke="#333" stroke-width="0.1" font-weight="normal" font-style="normal" >*</text>
<text x="106.70" y="587.20" font-size="9" text-anchor="middle" fill="#3a3a3a" stroke="#3a3a3a" stroke-width="0.1" font-weight="normal" font-style="normal" letter-spacing="1.1">$$$$$</text>
<path d="M130.5,572.5 L130.5,549.5 L157.5,549.5 L157.5,555" fill="none" stroke="#444" stroke-width="0.8" />
<text x="144.20" y="549.80" font-size="6.2" text-anchor="middle" fill="#333" stroke="#333" stroke-width="0.1" font-weight="normal" font-style="normal" >*</text>
<path d="M137,572.5 L137,563.8 L157.5,563.8 L157.5,568.8" fill="none" stroke="#444" stroke-width="0.8" />
<text x="147.80" y="563.60" font-size="6.2" text-anchor="middle" fill="#333" stroke="#333" stroke-width="0.1" font-weight="normal" font-style="normal" >*</text>
<text x="142.40" y="580.60" font-size="9" text-anchor="middle" fill="#3a3a3a" stroke="#3a3a3a" stroke-width="0.1" font-weight="normal" font-style="normal" letter-spacing="1.1">$$$$</text>
<path d="M170,576.3 L170,549.5 L198.8,549.5 L198.8,555" fill="none" stroke="#444" stroke-width="0.8" />
<text x="184.70" y="549.80" font-size="6.2" text-anchor="middle" fill="#333" stroke="#333" stroke-width="0.1" font-weight="normal" font-style="normal" >*</text>
<path d="M177,576.3 L177,563.8 L198.8,563.8 L198.8,568.8" fill="none" stroke="#444" stroke-width="0.8" />
<text x="187.80" y="563.60" font-size="6.2" text-anchor="middle" fill="#333" stroke="#333" stroke-width="0.1" font-weight="normal" font-style="normal" >*</text>
<text x="174.20" y="586.20" font-size="9" text-anchor="middle" fill="#3a3a3a" stroke="#3a3a3a" stroke-width="0.1" font-weight="normal" font-style="normal" letter-spacing="1.1">$$</text>
<text x="215.20" y="548.60" font-size="11.2" text-anchor="start" fill="#111" stroke="#111" stroke-width="0.1" font-weight="bold" font-style="normal" >G</text>
<line x1="259.60" y1="572.00" x2="259.60" y2="666.40" stroke="#222" stroke-width="0.9" />
<line x1="259.60" y1="666.40" x2="410.00" y2="666.40" stroke="#222" stroke-width="0.9" />
<line x1="257.10" y1="649.70" x2="259.60" y2="649.70" stroke="#222" stroke-width="0.8" />
<text x="254.60" y="653.10" font-size="8.4" text-anchor="end" fill="#222" stroke="#222" stroke-width="0.1" font-weight="normal" font-style="normal" >80</text>
<line x1="257.10" y1="618.70" x2="259.60" y2="618.70" stroke="#222" stroke-width="0.8" />
<text x="254.60" y="622.10" font-size="8.4" text-anchor="end" fill="#222" stroke="#222" stroke-width="0.1" font-weight="normal" font-style="normal" >100</text>
<line x1="257.10" y1="587.70" x2="259.60" y2="587.70" stroke="#222" stroke-width="0.8" />
<text x="254.60" y="591.10" font-size="8.4" text-anchor="end" fill="#222" stroke="#222" stroke-width="0.1" font-weight="normal" font-style="normal" >120</text>
<rect x="262.00" y="618.70" width="4.80" height="47.70" fill="#a3d18f" />
<circle cx="264.48" cy="619.25" r="0.70" fill="#4aa040" />
<circle cx="263.67" cy="613.84" r="0.70" fill="#4aa040" />
<circle cx="263.14" cy="614.44" r="0.70" fill="#4aa040" />
<circle cx="263.56" cy="615.20" r="0.70" fill="#4aa040" />
<circle cx="265.13" cy="621.71" r="0.70" fill="#4aa040" />
<circle cx="263.81" cy="611.36" r="0.70" fill="#4aa040" />
<circle cx="263.97" cy="624.52" r="0.70" fill="#4aa040" />
<circle cx="263.05" cy="618.70" r="0.70" fill="#4aa040" />
<circle cx="265.05" cy="618.70" r="0.70" fill="#4aa040" />
<line x1="264.40" y1="615.70" x2="264.40" y2="621.70" stroke="#333" stroke-width="0.6" />
<line x1="262.90" y1="615.70" x2="265.90" y2="615.70" stroke="#333" stroke-width="0.6" />
<rect x="268.55" y="618.70" width="4.80" height="47.70" fill="#9a79b6" />
<circle cx="271.09" cy="617.06" r="0.70" fill="#4a2470" />
<circle cx="272.17" cy="614.78" r="0.70" fill="#4a2470" />
<circle cx="269.85" cy="608.90" r="0.70" fill="#4a2470" />
<circle cx="270.94" cy="614.55" r="0.70" fill="#4a2470" />
<circle cx="271.89" cy="627.68" r="0.70" fill="#4a2470" />
<circle cx="271.48" cy="627.35" r="0.70" fill="#4a2470" />
<circle cx="272.30" cy="611.82" r="0.70" fill="#4a2470" />
<circle cx="271.53" cy="628.37" r="0.70" fill="#4a2470" />
<circle cx="271.33" cy="604.02" r="0.70" fill="#4a2470" />
<line x1="270.95" y1="615.70" x2="270.95" y2="621.70" stroke="#333" stroke-width="0.6" />
<line x1="269.45" y1="615.70" x2="272.45" y2="615.70" stroke="#333" stroke-width="0.6" />
<rect x="275.10" y="618.70" width="4.80" height="47.70" fill="#a0805e" />
<circle cx="276.25" cy="625.80" r="0.70" fill="#5a3a1e" />
<circle cx="276.46" cy="613.86" r="0.70" fill="#5a3a1e" />
<circle cx="276.82" cy="604.90" r="0.70" fill="#5a3a1e" />
<circle cx="276.56" cy="612.13" r="0.70" fill="#5a3a1e" />
<circle cx="278.54" cy="603.31" r="0.70" fill="#5a3a1e" />
<circle cx="277.98" cy="609.67" r="0.70" fill="#5a3a1e" />
<circle cx="276.92" cy="620.08" r="0.70" fill="#5a3a1e" />
<circle cx="277.39" cy="611.91" r="0.70" fill="#5a3a1e" />
<circle cx="276.84" cy="613.15" r="0.70" fill="#5a3a1e" />
<line x1="277.50" y1="615.70" x2="277.50" y2="621.70" stroke="#333" stroke-width="0.6" />
<line x1="276.00" y1="615.70" x2="279.00" y2="615.70" stroke="#333" stroke-width="0.6" />
<rect x="281.65" y="618.70" width="4.80" height="47.70" fill="#f28fc0" />
<circle cx="285.34" cy="610.25" r="0.70" fill="#d01878" />
<circle cx="283.33" cy="607.17" r="0.70" fill="#d01878" />
<circle cx="285.35" cy="620.70" r="0.70" fill="#d01878" />
<circle cx="282.65" cy="621.89" r="0.70" fill="#d01878" />
<circle cx="283.72" cy="610.57" r="0.70" fill="#d01878" />
<circle cx="283.21" cy="629.55" r="0.70" fill="#d01878" />
<circle cx="284.06" cy="616.96" r="0.70" fill="#d01878" />
<circle cx="282.90" cy="611.42" r="0.70" fill="#d01878" />
<circle cx="283.77" cy="618.47" r="0.70" fill="#d01878" />
<line x1="284.05" y1="615.70" x2="284.05" y2="621.70" stroke="#333" stroke-width="0.6" />
<line x1="282.55" y1="615.70" x2="285.55" y2="615.70" stroke="#333" stroke-width="0.6" />
<rect x="288.20" y="618.70" width="4.80" height="47.70" fill="#fcd98a" />
<circle cx="290.05" cy="616.78" r="0.70" fill="#f0b830" />
<circle cx="289.85" cy="618.19" r="0.70" fill="#f0b830" />
<circle cx="291.30" cy="628.50" r="0.70" fill="#f0b830" />
<circle cx="291.04" cy="624.55" r="0.70" fill="#f0b830" />
<circle cx="290.29" cy="622.75" r="0.70" fill="#f0b830" />
<circle cx="290.11" cy="637.38" r="0.70" fill="#f0b830" />
<circle cx="291.23" cy="613.43" r="0.70" fill="#f0b830" />
<circle cx="291.00" cy="619.21" r="0.70" fill="#f0b830" />
<circle cx="291.70" cy="601.70" r="0.70" fill="#f0b830" />
<line x1="290.60" y1="615.70" x2="290.60" y2="621.70" stroke="#333" stroke-width="0.6" />
<line x1="289.10" y1="615.70" x2="292.10" y2="615.70" stroke="#333" stroke-width="0.6" />
<line x1="277.50" y1="666.40" x2="277.50" y2="669.00" stroke="#222" stroke-width="0.8" />
<rect x="300.10" y="632.65" width="4.80" height="33.75" fill="#a3d18f" />
<circle cx="302.86" cy="627.85" r="0.70" fill="#4aa040" />
<circle cx="301.49" cy="634.37" r="0.70" fill="#4aa040" />
<circle cx="302.57" cy="649.57" r="0.70" fill="#4aa040" />
<circle cx="303.35" cy="650.30" r="0.70" fill="#4aa040" />
<circle cx="303.41" cy="633.13" r="0.70" fill="#4aa040" />
<circle cx="303.01" cy="649.63" r="0.70" fill="#4aa040" />
<circle cx="303.04" cy="642.56" r="0.70" fill="#4aa040" />
<circle cx="301.47" cy="632.36" r="0.70" fill="#4aa040" />
<circle cx="302.11" cy="630.33" r="0.70" fill="#4aa040" />
<line x1="302.50" y1="629.65" x2="302.50" y2="635.65" stroke="#333" stroke-width="0.6" />
<line x1="301.00" y1="629.65" x2="304.00" y2="629.65" stroke="#333" stroke-width="0.6" />
<rect x="306.65" y="634.82" width="4.80" height="31.58" fill="#9a79b6" />
<circle cx="309.21" cy="620.85" r="0.70" fill="#4a2470" />
<circle cx="309.41" cy="623.99" r="0.70" fill="#4a2470" />
<circle cx="309.02" cy="644.68" r="0.70" fill="#4a2470" />
<circle cx="307.66" cy="644.83" r="0.70" fill="#4a2470" />
<circle cx="309.06" cy="630.26" r="0.70" fill="#4a2470" />
<circle cx="309.15" cy="649.58" r="0.70" fill="#4a2470" />
<circle cx="309.71" cy="636.67" r="0.70" fill="#4a2470" />
<circle cx="308.36" cy="637.71" r="0.70" fill="#4a2470" />
<circle cx="309.69" cy="628.30" r="0.70" fill="#4a2470" />
<line x1="309.05" y1="631.82" x2="309.05" y2="637.82" stroke="#333" stroke-width="0.6" />
<line x1="307.55" y1="631.82" x2="310.55" y2="631.82" stroke="#333" stroke-width="0.6" />
<rect x="313.20" y="627.85" width="4.80" height="38.55" fill="#a0805e" />
<circle cx="314.77" cy="624.55" r="0.70" fill="#5a3a1e" />
<circle cx="315.58" cy="629.46" r="0.70" fill="#5a3a1e" />
<circle cx="315.27" cy="653.16" r="0.70" fill="#5a3a1e" />
<circle cx="316.35" cy="641.83" r="0.70" fill="#5a3a1e" />
<circle cx="315.93" cy="625.99" r="0.70" fill="#5a3a1e" />
<circle cx="314.61" cy="630.18" r="0.70" fill="#5a3a1e" />
<circle cx="314.91" cy="630.76" r="0.70" fill="#5a3a1e" />
<circle cx="315.79" cy="628.18" r="0.70" fill="#5a3a1e" />
<circle cx="314.23" cy="635.76" r="0.70" fill="#5a3a1e" />
<line x1="315.60" y1="624.85" x2="315.60" y2="630.85" stroke="#333" stroke-width="0.6" />
<line x1="314.10" y1="624.85" x2="317.10" y2="624.85" stroke="#333" stroke-width="0.6" />
<rect x="319.75" y="630.48" width="4.80" height="35.92" fill="#f28fc0" />
<circle cx="322.63" cy="623.65" r="0.70" fill="#d01878" />
<circle cx="322.69" cy="627.74" r="0.70" fill="#d01878" />
<circle cx="322.20" cy="633.95" r="0.70" fill="#d01878" />
<circle cx="322.05" cy="637.37" r="0.70" fill="#d01878" />
<circle cx="323.25" cy="635.05" r="0.70" fill="#d01878" />
<circle cx="321.31" cy="629.50" r="0.70" fill="#d01878" />
<circle cx="320.80" cy="608.86" r="0.70" fill="#d01878" />
<circle cx="322.04" cy="633.47" r="0.70" fill="#d01878" />
<circle cx="322.01" cy="620.10" r="0.70" fill="#d01878" />
<line x1="322.15" y1="627.48" x2="322.15" y2="633.48" stroke="#333" stroke-width="0.6" />
<line x1="320.65" y1="627.48" x2="323.65" y2="627.48" stroke="#333" stroke-width="0.6" />
<rect x="326.30" y="631.41" width="4.80" height="34.99" fill="#fcd98a" />
<circle cx="328.05" cy="653.51" r="0.70" fill="#f0b830" />
<circle cx="327.89" cy="625.81" r="0.70" fill="#f0b830" />
<circle cx="328.93" cy="609.68" r="0.70" fill="#f0b830" />
<circle cx="329.97" cy="624.28" r="0.70" fill="#f0b830" />
<circle cx="327.67" cy="622.60" r="0.70" fill="#f0b830" />
<circle cx="329.78" cy="626.68" r="0.70" fill="#f0b830" />
<circle cx="329.27" cy="641.44" r="0.70" fill="#f0b830" />
<circle cx="328.66" cy="629.09" r="0.70" fill="#f0b830" />
<circle cx="327.37" cy="611.69" r="0.70" fill="#f0b830" />
<line x1="328.70" y1="628.41" x2="328.70" y2="634.41" stroke="#333" stroke-width="0.6" />
<line x1="327.20" y1="628.41" x2="330.20" y2="628.41" stroke="#333" stroke-width="0.6" />
<line x1="315.60" y1="666.40" x2="315.60" y2="669.00" stroke="#222" stroke-width="0.8" />
<rect x="338.60" y="630.33" width="4.80" height="36.07" fill="#a3d18f" />
<circle cx="340.86" cy="619.51" r="0.70" fill="#4aa040" />
<circle cx="340.45" cy="630.08" r="0.70" fill="#4aa040" />
<circle cx="340.49" cy="624.91" r="0.70" fill="#4aa040" />
<circle cx="341.95" cy="623.72" r="0.70" fill="#4aa040" />
<circle cx="341.95" cy="614.82" r="0.70" fill="#4aa040" />
<circle cx="339.94" cy="630.16" r="0.70" fill="#4aa040" />
<circle cx="342.12" cy="617.17" r="0.70" fill="#4aa040" />
<circle cx="340.41" cy="636.88" r="0.70" fill="#4aa040" />
<circle cx="342.40" cy="636.78" r="0.70" fill="#4aa040" />
<line x1="341.00" y1="627.33" x2="341.00" y2="633.33" stroke="#333" stroke-width="0.6" />
<line x1="339.50" y1="627.33" x2="342.50" y2="627.33" stroke="#333" stroke-width="0.6" />
<rect x="345.15" y="636.53" width="4.80" height="29.87" fill="#9a79b6" />
<circle cx="347.80" cy="629.84" r="0.70" fill="#4a2470" />
<circle cx="346.92" cy="642.83" r="0.70" fill="#4a2470" />
<circle cx="346.29" cy="628.98" r="0.70" fill="#4a2470" />
<circle cx="346.95" cy="622.36" r="0.70" fill="#4a2470" />
<circle cx="348.77" cy="626.00" r="0.70" fill="#4a2470" />
<circle cx="347.58" cy="636.49" r="0.70" fill="#4a2470" />
<circle cx="346.68" cy="629.22" r="0.70" fill="#4a2470" />
<circle cx="348.63" cy="652.80" r="0.70" fill="#4a2470" />
<circle cx="348.42" cy="619.91" r="0.70" fill="#4a2470" />
<line x1="347.55" y1="633.53" x2="347.55" y2="639.53" stroke="#333" stroke-width="0.6" />
<line x1="346.05" y1="633.53" x2="349.05" y2="633.53" stroke="#333" stroke-width="0.6" />
<rect x="351.70" y="628.47" width="4.80" height="37.93" fill="#a0805e" />
<circle cx="355.33" cy="642.46" r="0.70" fill="#5a3a1e" />
<circle cx="354.24" cy="643.54" r="0.70" fill="#5a3a1e" />
<circle cx="354.75" cy="629.03" r="0.70" fill="#5a3a1e" />
<circle cx="353.96" cy="631.37" r="0.70" fill="#5a3a1e" />
<circle cx="353.50" cy="628.24" r="0.70" fill="#5a3a1e" />
<circle cx="352.84" cy="641.84" r="0.70" fill="#5a3a1e" />
<circle cx="354.02" cy="624.12" r="0.70" fill="#5a3a1e" />
<circle cx="353.66" cy="630.62" r="0.70" fill="#5a3a1e" />
<circle cx="355.43" cy="632.97" r="0.70" fill="#5a3a1e" />
<line x1="354.10" y1="625.47" x2="354.10" y2="631.47" stroke="#333" stroke-width="0.6" />
<line x1="352.60" y1="625.47" x2="355.60" y2="625.47" stroke="#333" stroke-width="0.6" />
<rect x="358.25" y="629.24" width="4.80" height="37.16" fill="#f28fc0" />
<circle cx="359.98" cy="614.68" r="0.70" fill="#d01878" />
<circle cx="360.81" cy="633.62" r="0.70" fill="#d01878" />
<circle cx="360.35" cy="635.77" r="0.70" fill="#d01878" />
<circle cx="359.83" cy="626.50" r="0.70" fill="#d01878" />
<circle cx="361.79" cy="624.45" r="0.70" fill="#d01878" />
<circle cx="361.79" cy="635.80" r="0.70" fill="#d01878" />
<circle cx="362.04" cy="629.12" r="0.70" fill="#d01878" />
<circle cx="359.79" cy="634.09" r="0.70" fill="#d01878" />
<circle cx="359.50" cy="627.66" r="0.70" fill="#d01878" />
<line x1="360.65" y1="626.24" x2="360.65" y2="632.24" stroke="#333" stroke-width="0.6" />
<line x1="359.15" y1="626.24" x2="362.15" y2="626.24" stroke="#333" stroke-width="0.6" />
<rect x="364.80" y="627.38" width="4.80" height="39.02" fill="#fcd98a" />
<circle cx="366.47" cy="629.60" r="0.70" fill="#f0b830" />
<circle cx="366.52" cy="623.98" r="0.70" fill="#f0b830" />
<circle cx="367.90" cy="644.98" r="0.70" fill="#f0b830" />
<circle cx="366.96" cy="635.61" r="0.70" fill="#f0b830" />
<circle cx="366.86" cy="637.10" r="0.70" fill="#f0b830" />
<circle cx="366.75" cy="621.54" r="0.70" fill="#f0b830" />
<circle cx="368.51" cy="620.44" r="0.70" fill="#f0b830" />
<circle cx="366.15" cy="624.53" r="0.70" fill="#f0b830" />
<circle cx="368.22" cy="640.48" r="0.70" fill="#f0b830" />
<line x1="367.20" y1="624.38" x2="367.20" y2="630.38" stroke="#333" stroke-width="0.6" />
<line x1="365.70" y1="624.38" x2="368.70" y2="624.38" stroke="#333" stroke-width="0.6" />
<line x1="354.10" y1="666.40" x2="354.10" y2="669.00" stroke="#222" stroke-width="0.8" />
<rect x="377.30" y="637.61" width="4.80" height="28.79" fill="#a3d18f" />
<circle cx="378.90" cy="637.89" r="0.70" fill="#4aa040" />
<circle cx="379.42" cy="638.54" r="0.70" fill="#4aa040" />
<circle cx="379.55" cy="630.64" r="0.70" fill="#4aa040" />
<circle cx="380.74" cy="620.29" r="0.70" fill="#4aa040" />
<circle cx="378.36" cy="642.77" r="0.70" fill="#4aa040" />
<circle cx="380.81" cy="623.29" r="0.70" fill="#4aa040" />
<circle cx="379.63" cy="634.67" r="0.70" fill="#4aa040" />
<circle cx="379.40" cy="637.76" r="0.70" fill="#4aa040" />
<circle cx="380.90" cy="637.70" r="0.70" fill="#4aa040" />
<line x1="379.70" y1="634.61" x2="379.70" y2="640.61" stroke="#333" stroke-width="0.6" />
<line x1="378.20" y1="634.61" x2="381.20" y2="634.61" stroke="#333" stroke-width="0.6" />
<rect x="383.85" y="637.30" width="4.80" height="29.10" fill="#9a79b6" />
<circle cx="387.57" cy="628.94" r="0.70" fill="#4a2470" />
<circle cx="385.55" cy="653.57" r="0.70" fill="#4a2470" />
<circle cx="386.31" cy="633.13" r="0.70" fill="#4a2470" />
<circle cx="386.76" cy="633.89" r="0.70" fill="#4a2470" />
<circle cx="386.66" cy="623.42" r="0.70" fill="#4a2470" />
<circle cx="386.99" cy="642.65" r="0.70" fill="#4a2470" />
<circle cx="384.96" cy="648.66" r="0.70" fill="#4a2470" />
<circle cx="387.04" cy="634.18" r="0.70" fill="#4a2470" />
<circle cx="386.66" cy="635.02" r="0.70" fill="#4a2470" />
<line x1="386.25" y1="634.30" x2="386.25" y2="640.30" stroke="#333" stroke-width="0.6" />
<line x1="384.75" y1="634.30" x2="387.75" y2="634.30" stroke="#333" stroke-width="0.6" />
<rect x="390.40" y="629.24" width="4.80" height="37.16" fill="#a0805e" />
<circle cx="392.25" cy="608.47" r="0.70" fill="#5a3a1e" />
<circle cx="393.18" cy="624.33" r="0.70" fill="#5a3a1e" />
<circle cx="393.36" cy="624.14" r="0.70" fill="#5a3a1e" />
<circle cx="392.87" cy="626.53" r="0.70" fill="#5a3a1e" />
<circle cx="393.03" cy="626.94" r="0.70" fill="#5a3a1e" />
<circle cx="393.08" cy="634.29" r="0.70" fill="#5a3a1e" />
<circle cx="391.43" cy="624.96" r="0.70" fill="#5a3a1e" />
<circle cx="394.09" cy="632.53" r="0.70" fill="#5a3a1e" />
<circle cx="393.20" cy="619.44" r="0.70" fill="#5a3a1e" />
<line x1="392.80" y1="626.24" x2="392.80" y2="632.24" stroke="#333" stroke-width="0.6" />
<line x1="391.30" y1="626.24" x2="394.30" y2="626.24" stroke="#333" stroke-width="0.6" />
<rect x="396.95" y="620.87" width="4.80" height="45.53" fill="#f28fc0" />
<circle cx="398.61" cy="613.00" r="0.70" fill="#d01878" />
<circle cx="398.64" cy="627.92" r="0.70" fill="#d01878" />
<circle cx="398.81" cy="606.79" r="0.70" fill="#d01878" />
<circle cx="398.01" cy="624.43" r="0.70" fill="#d01878" />
<circle cx="399.13" cy="634.80" r="0.70" fill="#d01878" />
<circle cx="398.67" cy="620.72" r="0.70" fill="#d01878" />
<circle cx="398.59" cy="631.38" r="0.70" fill="#d01878" />
<circle cx="398.05" cy="639.25" r="0.70" fill="#d01878" />
<circle cx="399.86" cy="625.98" r="0.70" fill="#d01878" />
<line x1="399.35" y1="617.87" x2="399.35" y2="623.87" stroke="#333" stroke-width="0.6" />
<line x1="397.85" y1="617.87" x2="400.85" y2="617.87" stroke="#333" stroke-width="0.6" />
<rect x="403.50" y="623.66" width="4.80" height="42.74" fill="#fcd98a" />
<circle cx="405.05" cy="615.39" r="0.70" fill="#f0b830" />
<circle cx="405.91" cy="619.22" r="0.70" fill="#f0b830" />
<circle cx="405.07" cy="638.24" r="0.70" fill="#f0b830" />
<circle cx="406.80" cy="615.77" r="0.70" fill="#f0b830" />
<circle cx="405.15" cy="625.17" r="0.70" fill="#f0b830" />
<circle cx="405.33" cy="620.85" r="0.70" fill="#f0b830" />
<circle cx="407.17" cy="608.19" r="0.70" fill="#f0b830" />
<circle cx="405.13" cy="629.65" r="0.70" fill="#f0b830" />
<circle cx="405.67" cy="623.50" r="0.70" fill="#f0b830" />
<line x1="405.90" y1="620.66" x2="405.90" y2="626.66" stroke="#333" stroke-width="0.6" />
<line x1="404.40" y1="620.66" x2="407.40" y2="620.66" stroke="#333" stroke-width="0.6" />
<line x1="392.80" y1="666.40" x2="392.80" y2="669.00" stroke="#222" stroke-width="0.8" />
<text x="276.20" y="679.20" font-size="7.7" text-anchor="middle" fill="#222" stroke="#222" stroke-width="0.1" font-weight="normal" font-style="normal" >Basal</text>
<text x="315.20" y="679.20" font-size="7.7" text-anchor="middle" fill="#222" stroke="#222" stroke-width="0.1" font-weight="normal" font-style="normal" >D1</text>
<text x="354.10" y="679.20" font-size="7.7" text-anchor="middle" fill="#222" stroke="#222" stroke-width="0.1" font-weight="normal" font-style="normal" >D3</text>
<text x="392.40" y="680.60" font-size="7.7" text-anchor="middle" fill="#222" stroke="#222" stroke-width="0.1" font-weight="normal" font-style="normal" >D7</text>
<text transform="translate(235,618.7) rotate(-90)" font-size="8" text-anchor="middle" fill="#222" stroke="#222" stroke-width="0.1" textLength="82" lengthAdjust="spacingAndGlyphs">Strength (% from baseline)</text>
<text x="321.70" y="609.20" font-size="9" text-anchor="middle" fill="#3a3a3a" stroke="#3a3a3a" stroke-width="0.1" font-weight="normal" font-style="normal" >$</text>
<text x="347.30" y="609.20" font-size="9" text-anchor="middle" fill="#3a3a3a" stroke="#3a3a3a" stroke-width="0.1" font-weight="normal" font-style="normal" >$</text>
<text x="366.50" y="609.20" font-size="8.2" text-anchor="middle" fill="#3a3a3a" stroke="#3a3a3a" stroke-width="0.1" font-weight="normal" font-style="normal" >#</text>
<text x="379.40" y="609.20" font-size="9" text-anchor="middle" fill="#3a3a3a" stroke="#3a3a3a" stroke-width="0.1" font-weight="normal" font-style="normal" >$</text>
<text x="386.40" y="609.20" font-size="9" text-anchor="middle" fill="#3a3a3a" stroke="#3a3a3a" stroke-width="0.1" font-weight="normal" font-style="normal" >$</text>
<text x="397.40" y="609.20" font-size="8.2" text-anchor="middle" fill="#3a3a3a" stroke="#3a3a3a" stroke-width="0.1" font-weight="normal" font-style="normal" >#</text>
<text x="406.20" y="609.20" font-size="8.2" text-anchor="middle" fill="#3a3a3a" stroke="#3a3a3a" stroke-width="0.1" font-weight="normal" font-style="normal" >#</text>
<path d="M378,558.9 L378,540.2 L405.4,540.2 L405.4,544.8" fill="none" stroke="#444" stroke-width="0.8" />
<text x="391.80" y="539.10" font-size="6.2" text-anchor="middle" fill="#333" stroke="#333" stroke-width="0.1" font-weight="normal" font-style="normal" >*</text>
<path d="M386,558.9 L386,553.5 L407.7,553.5 L407.7,603" fill="none" stroke="#444" stroke-width="0.8" />
<text x="397.20" y="552.60" font-size="6.2" text-anchor="middle" fill="#333" stroke="#333" stroke-width="0.1" font-weight="normal" font-style="normal" >*</text>
<path d="M378,597.4 L378,571.7 L400.2,571.7 L400.2,577.5" fill="none" stroke="#444" stroke-width="0.8" />
<text x="389.50" y="571.30" font-size="6.2" text-anchor="middle" fill="#333" stroke="#333" stroke-width="0.1" font-weight="normal" font-style="normal" >**</text>
<path d="M387.4,597.4 L387.4,588.7 L400.2,588.7 L400.2,597.4" fill="none" stroke="#444" stroke-width="0.8" />
<text x="393.70" y="588.80" font-size="6.2" text-anchor="middle" fill="#333" stroke="#333" stroke-width="0.1" font-weight="normal" font-style="normal" >*</text>
<rect x="424.20" y="580.60" width="5.80" height="5.80" fill="#a3d18f" />
<text x="433.70" y="586.10" font-size="7.1" text-anchor="start" fill="#222" stroke="#222" stroke-width="0.1" font-weight="normal" font-style="normal" >STZ</text>
<rect x="424.20" y="591.90" width="5.80" height="5.80" fill="#9a79b6" />
<text x="433.70" y="597.40" font-size="7.1" text-anchor="start" fill="#222" stroke="#222" stroke-width="0.1" font-weight="normal" font-style="normal" >STZ-rtPA</text>
<rect x="424.20" y="603.20" width="5.80" height="5.80" fill="#a0805e" />
<text x="433.70" y="608.70" font-size="7.1" text-anchor="start" fill="#222" stroke="#222" stroke-width="0.1" font-weight="normal" font-style="normal" >STZ-Gluno</text>
<rect x="424.20" y="614.50" width="5.80" height="5.80" fill="#f28fc0" />
<text x="433.70" y="620.00" font-size="7.1" text-anchor="start" fill="#222" stroke="#222" stroke-width="0.1" font-weight="normal" font-style="normal" >STZ-Gluno-rtPA</text>
<rect x="424.20" y="625.80" width="5.80" height="5.80" fill="#fcd98a" />
<text x="433.70" y="631.30" font-size="7.1" text-anchor="start" fill="#222" stroke="#222" stroke-width="0.1" font-weight="normal" font-style="normal" >STZ-NAC-Gluno</text>
<text x="424.6" y="646.2" font-size="7.1" fill="#222" stroke="#222" stroke-width="0.1" ><tspan font-weight="bold" font-size="8.2">$</tspan> : <tspan font-style="italic">P</tspan> &lt; .5 <tspan font-style="italic">vs</tspan> baseline</text>
<text x="424.6" y="656.8" font-size="7.1" fill="#222" stroke="#222" stroke-width="0.1"><tspan font-weight="bold" font-size="7.6">#</tspan>  : <tspan font-style="italic">P</tspan> &lt; .5 <tspan font-style="italic">vs</tspan> D1</text>
<rect x="0.5" y="0.5" width="519" height="684" fill="none" stroke="#5a5a5a" stroke-width="1"/>
</svg></body></html>
